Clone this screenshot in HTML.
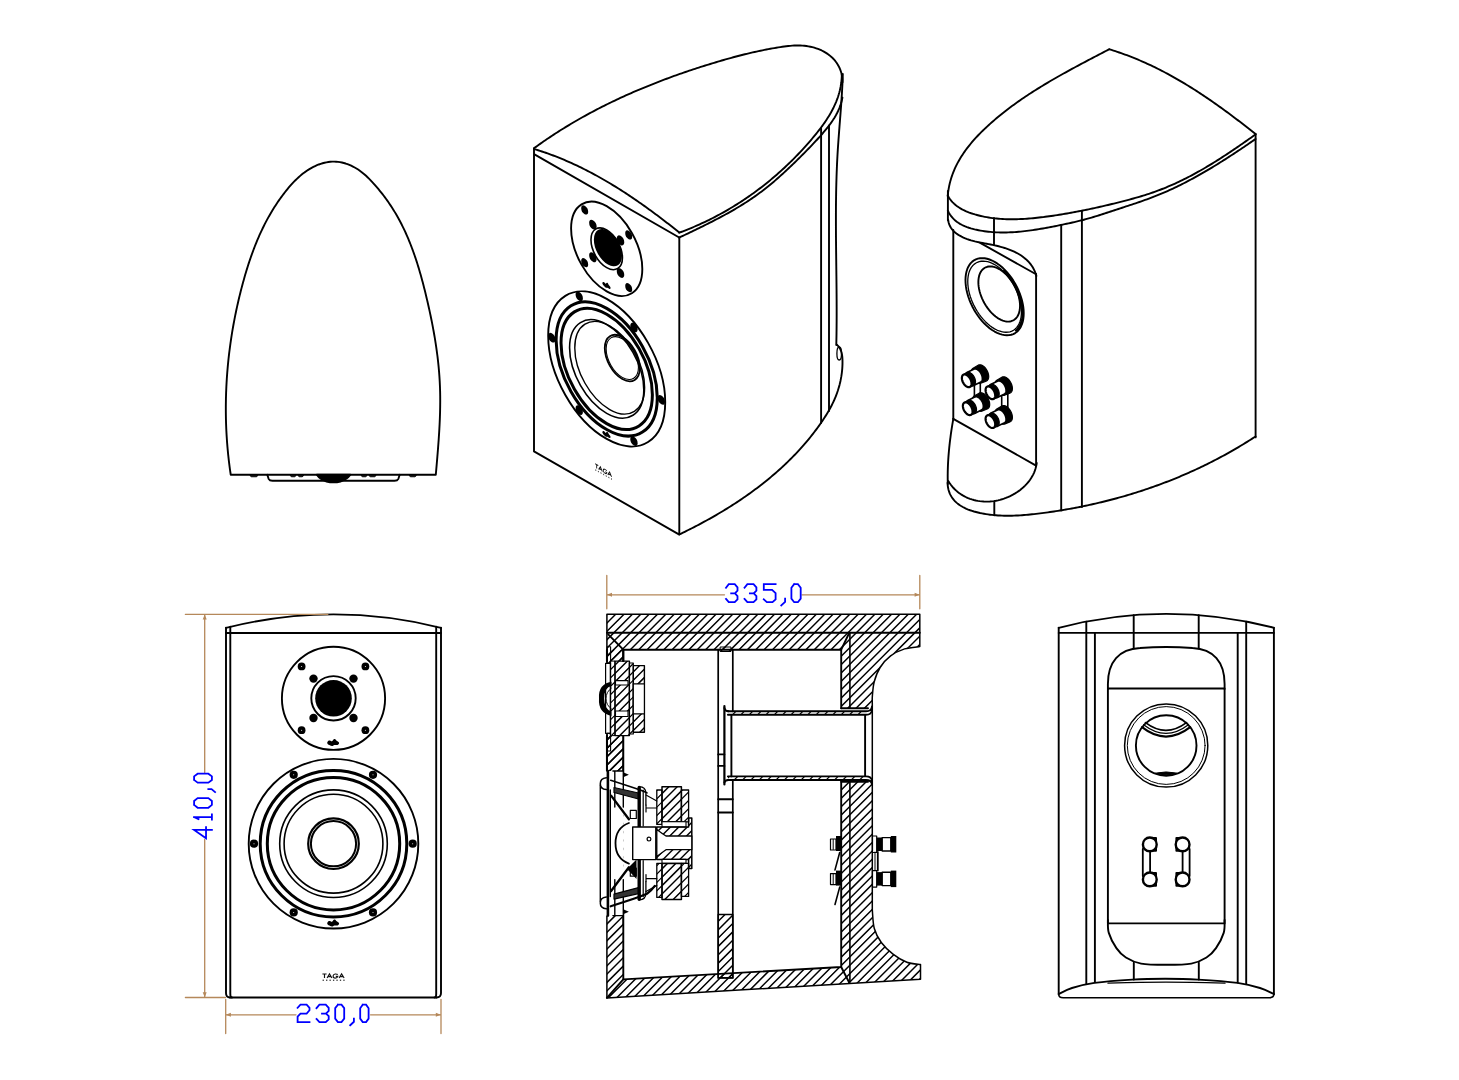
<!DOCTYPE html>
<html><head><meta charset="utf-8"><style>
html,body{margin:0;padding:0;background:#fff;}
svg{display:block;}
.ns *{vector-effect:non-scaling-stroke;}
</style></head><body>
<svg width="1459" height="1080" viewBox="0 0 1459 1080" fill="none" stroke="#000" stroke-width="1.9" stroke-linejoin="round" stroke-linecap="round">
<defs><pattern id="hat" width="10" height="5.976" patternUnits="userSpaceOnUse" patternTransform="rotate(-45.91)"><line x1="-1" y1="2.49" x2="11" y2="2.49" stroke="#000" stroke-width="1.45"/></pattern><pattern id="hat2" width="10" height="5.976" patternUnits="userSpaceOnUse" patternTransform="rotate(-45.91)"><line x1="-1" y1="2.49" x2="11" y2="2.49" stroke="#000" stroke-width="1.2"/></pattern></defs>
<rect width="1459" height="1080" fill="#fff" stroke="none"/>
<path d="M230.74,474.75 L230.45,472.76 L230.16,470.78 L229.88,468.79 L229.62,466.81 L229.36,464.82 L229.11,462.83 L228.87,460.84 L228.64,458.85 L228.42,456.86 L228.2,454.87 L228,452.88 L227.81,450.88 L227.62,448.89 L227.45,446.9 L227.28,444.9 L227.12,442.9 L226.97,440.91 L226.84,438.91 L226.71,436.91 L226.58,434.91 L226.47,432.91 L226.37,430.92 L226.28,428.92 L226.19,426.92 L226.11,424.92 L226.05,422.92 L225.99,420.91 L225.94,418.91 L225.9,416.91 L225.87,414.91 L225.85,412.91 L225.83,410.91 L225.83,408.91 L225.83,406.9 L225.84,404.9 L225.87,402.9 L225.9,400.9 L225.93,398.9 L225.98,396.9 L226.04,394.9 L226.1,392.89 L226.18,390.89 L226.26,388.89 L226.35,386.89 L226.45,384.9 L226.56,382.9 L226.68,380.9 L226.8,378.9 L226.93,376.9 L227.08,374.9 L227.23,372.91 L227.39,370.91 L227.56,368.92 L227.73,366.92 L227.92,364.93 L228.11,362.94 L228.31,360.94 L228.52,358.95 L228.74,356.96 L228.97,354.97 L229.2,352.98 L229.45,351 L229.7,349.01 L229.96,347.02 L230.23,345.04 L230.5,343.06 L230.79,341.07 L231.08,339.09 L231.38,337.11 L231.69,335.13 L232.01,333.16 L232.33,331.18 L232.67,329.21 L233.01,327.23 L233.36,325.26 L233.72,323.29 L234.09,321.32 L234.46,319.35 L234.84,317.39 L235.23,315.43 L235.63,313.46 L236.04,311.5 L236.45,309.54 L236.87,307.59 L237.3,305.63 L237.74,303.68 L238.19,301.72 L238.64,299.77 L239.1,297.83 L239.57,295.88 L240.05,293.94 L240.54,291.99 L241.03,290.05 L241.53,288.12 L242.04,286.18 L242.55,284.25 L243.08,282.31 L243.61,280.39 L244.15,278.46 L244.7,276.54 L245.26,274.61 L245.82,272.7 L246.4,270.78 L246.99,268.87 L247.58,266.96 L248.19,265.06 L248.8,263.16 L249.43,261.26 L250.07,259.37 L250.72,257.49 L251.38,255.6 L252.05,253.72 L252.74,251.85 L253.43,249.98 L254.14,248.12 L254.86,246.26 L255.6,244.41 L256.34,242.56 L257.11,240.72 L257.88,238.89 L258.67,237.06 L259.47,235.24 L260.29,233.42 L261.12,231.62 L261.97,229.81 L262.83,228.02 L263.71,226.23 L264.6,224.45 L265.51,222.68 L266.44,220.91 L267.38,219.15 L268.34,217.4 L269.32,215.66 L270.31,213.93 L271.33,212.21 L272.36,210.49 L273.4,208.78 L274.47,207.08 L275.55,205.39 L276.66,203.71 L277.78,202.04 L278.92,200.38 L280.09,198.73 L281.27,197.09 L282.47,195.46 L283.69,193.84 L284.93,192.23 L286.2,190.63 L287.48,189.05 L288.79,187.48 L290.12,185.94 L291.48,184.41 L292.86,182.91 L294.27,181.44 L295.7,180 L297.16,178.59 L298.64,177.22 L300.16,175.89 L301.7,174.59 L303.27,173.34 L304.87,172.14 L306.51,170.99 L308.17,169.88 L309.87,168.83 L311.6,167.84 L313.36,166.91 L315.16,166.03 L316.99,165.23 L318.84,164.49 L320.71,163.83 L322.61,163.25 L324.52,162.75 L326.44,162.34 L328.37,162.02 L330.31,161.79 L332.25,161.66 L334.19,161.63 L336.13,161.7 L338.06,161.88 L339.97,162.16 L341.88,162.52 L343.78,162.98 L345.65,163.53 L347.51,164.16 L349.35,164.88 L351.16,165.67 L352.95,166.54 L354.71,167.48 L356.44,168.49 L358.14,169.56 L359.8,170.7 L361.42,171.9 L363,173.15 L364.55,174.45 L366.06,175.8 L367.54,177.19 L368.99,178.61 L370.42,180.07 L371.82,181.55 L373.19,183.05 L374.55,184.57 L375.89,186.11 L377.21,187.65 L378.51,189.21 L379.8,190.77 L381.07,192.35 L382.32,193.94 L383.55,195.54 L384.77,197.15 L385.96,198.77 L387.14,200.4 L388.29,202.05 L389.43,203.7 L390.55,205.36 L391.65,207.04 L392.72,208.72 L393.78,210.41 L394.82,212.12 L395.84,213.83 L396.84,215.55 L397.82,217.29 L398.78,219.03 L399.73,220.78 L400.65,222.54 L401.56,224.3 L402.45,226.08 L403.33,227.86 L404.19,229.66 L405.03,231.46 L405.86,233.26 L406.67,235.08 L407.46,236.9 L408.24,238.73 L409,240.57 L409.75,242.41 L410.49,244.26 L411.21,246.11 L411.92,247.98 L412.62,249.84 L413.3,251.72 L413.97,253.6 L414.63,255.48 L415.27,257.37 L415.91,259.26 L416.53,261.16 L417.14,263.07 L417.74,264.98 L418.33,266.89 L418.91,268.81 L419.48,270.73 L420.04,272.65 L420.59,274.58 L421.14,276.51 L421.67,278.44 L422.2,280.38 L422.72,282.32 L423.23,284.26 L423.73,286.21 L424.22,288.15 L424.71,290.1 L425.2,292.05 L425.67,294 L426.14,295.96 L426.61,297.91 L427.07,299.87 L427.52,301.82 L427.97,303.78 L428.42,305.74 L428.86,307.7 L429.29,309.66 L429.72,311.62 L430.14,313.58 L430.55,315.54 L430.96,317.51 L431.37,319.47 L431.76,321.44 L432.15,323.4 L432.53,325.37 L432.91,327.34 L433.27,329.31 L433.63,331.28 L433.98,333.25 L434.33,335.22 L434.66,337.2 L434.99,339.17 L435.31,341.15 L435.62,343.12 L435.92,345.1 L436.22,347.08 L436.5,349.05 L436.78,351.03 L437.04,353.02 L437.3,355 L437.55,356.98 L437.78,358.96 L438.01,360.95 L438.22,362.93 L438.43,364.92 L438.63,366.91 L438.81,368.89 L438.98,370.88 L439.15,372.87 L439.3,374.87 L439.44,376.86 L439.57,378.85 L439.69,380.85 L439.79,382.84 L439.88,384.84 L439.97,386.83 L440.03,388.83 L440.09,390.83 L440.14,392.83 L440.17,394.83 L440.2,396.83 L440.21,398.84 L440.22,400.84 L440.21,402.84 L440.19,404.84 L440.17,406.85 L440.13,408.85 L440.09,410.86 L440.04,412.86 L439.98,414.87 L439.91,416.87 L439.84,418.88 L439.75,420.88 L439.66,422.89 L439.57,424.89 L439.46,426.89 L439.36,428.9 L439.24,430.9 L439.12,432.91 L438.99,434.91 L438.86,436.91 L438.73,438.91 L438.59,440.91 L438.44,442.91 L438.29,444.91 L438.14,446.91 L437.99,448.91 L437.83,450.91 L437.67,452.9 L437.5,454.9 L437.34,456.89 L437.17,458.88 L437,460.87 L436.83,462.86 L436.66,464.85 L436.49,466.84 L436.31,468.82 L436.14,470.8 L435.97,472.79 L435.79,474.77 Z"/>
<path d="M267.3,474.8 L268.6,478.8 Q269.6,480.8 272.5,480.8 L394.5,480.8 Q397.4,480.8 398.4,478.8 L399.7,474.8"/>
<path d="M316.8,474.8 Q320,479.5 326.5,481.5 Q333.5,483.2 340.5,481.5 Q347,479.5 350.4,474.8 Z" fill="#000"/>
<path d="M250,475.2 Q250.5,476.8 251.5,476.8 L256.3,476.8 Q257.3,476.8 257.8,475.2 Z" fill="#000" stroke-width="0.8"/>
<path d="M290.2,475.2 Q290.7,476.8 291.7,476.8 L294.5,476.8 Q295.5,476.8 296,475.2 Z" fill="#000" stroke-width="0.8"/>
<path d="M298,475.2 Q298.5,476.8 299.5,476.8 L302.1,476.8 Q303.1,476.8 303.6,475.2 Z" fill="#000" stroke-width="0.8"/>
<path d="M361.1,475.2 Q361.6,476.8 362.6,476.8 L365.5,476.8 Q366.5,476.8 367,475.2 Z" fill="#000" stroke-width="0.8"/>
<path d="M369,475.2 Q369.5,476.8 370.5,476.8 L374.5,476.8 Q375.5,476.8 376,475.2 Z" fill="#000" stroke-width="0.8"/>
<path d="M409.2,475.2 Q409.7,476.8 410.7,476.8 L414.8,476.8 Q415.8,476.8 416.3,475.2 Z" fill="#000" stroke-width="0.8"/>
<path d="M226,627.8 Q333.5,601 441,627.8"/>
<path d="M226,627.8 L226,993 Q226,997.5 230,997.5"/>
<path d="M441,627.8 L441,993 Q441,997.5 436.5,997.5"/>
<path d="M230.3,626.6 L230.3,994 Q230.3,997.5 232,997.5"/>
<path d="M436.2,626.6 L436.2,994 Q436.2,997.5 434.5,997.5"/>
<path d="M226,633 L441,633"/>
<path d="M230,997.5 L436.5,997.5" stroke-width="1.9"/>
<g transform="translate(333.5,698.3)"><circle r="51.6"/><circle r="22.2" stroke-width="1.9"/><circle r="18.3" fill="#000" stroke="none"/><circle cx="-20" cy="-19.7" r="4.2" fill="#000" stroke="none"/><circle cx="-31.9" cy="-31.9" r="3.9" fill="#000" stroke="none"/><circle cx="-31.9" cy="-31.9" r="0.5" fill="#fff" stroke="none"/><circle cx="-20" cy="19.7" r="4.2" fill="#000" stroke="none"/><circle cx="-31.9" cy="31.9" r="3.9" fill="#000" stroke="none"/><circle cx="-31.9" cy="31.9" r="0.5" fill="#fff" stroke="none"/><circle cx="20" cy="-19.7" r="4.2" fill="#000" stroke="none"/><circle cx="31.9" cy="-31.9" r="3.9" fill="#000" stroke="none"/><circle cx="31.9" cy="-31.9" r="0.5" fill="#fff" stroke="none"/><circle cx="20" cy="19.7" r="4.2" fill="#000" stroke="none"/><circle cx="31.9" cy="31.9" r="3.9" fill="#000" stroke="none"/><circle cx="31.9" cy="31.9" r="0.5" fill="#fff" stroke="none"/><path d="M-6.3,44.63 L-6.17,43.87 L-5.76,43.13 L-5.15,42.52 L-4.43,42.16 L-3.67,42.17 L-2.94,42.51 L-2.26,42.9 L-1.67,43.06 L-1.18,42.76 L-0.73,42.13 L-0.26,41.41 L0.32,40.87 L0.95,40.62 L1.53,40.75 L2.06,41.23 L2.59,41.87 L3.23,42.47 L3.98,42.95 L4.71,43.36 L5.28,43.83 L5.55,44.43 L5.52,45.09 L5.25,45.74 L4.77,46.28 L4.12,46.62 L3.35,46.71 L2.52,46.65 L1.68,46.58 L0.91,46.67 L0.24,46.97 L-0.38,47.34 L-1.01,47.6 L-1.69,47.61 L-2.44,47.42 L-3.26,47.13 L-4.12,46.79 L-4.93,46.38 L-5.62,45.89 L-6.1,45.31 L-6.3,44.63Z" fill="#000" stroke="none"/><g transform="translate(0,145.4)"><circle r="84.8"/><circle r="73.3" stroke-width="3.0"/><circle r="66.2" stroke-width="3.0"/><circle r="53.8" stroke-width="1.6"/><circle r="49.4" stroke-width="1.6"/><circle r="25.3" stroke-width="2.2"/><circle r="22.6" stroke-width="2.0"/><circle cx="-39.8" cy="-68.9" r="4.1" fill="#000" stroke="none"/><circle cx="-39.8" cy="-68.9" r="0.5" fill="#fff" stroke="none"/><circle cx="39.5" cy="-68.9" r="4.1" fill="#000" stroke="none"/><circle cx="39.5" cy="-68.9" r="0.5" fill="#fff" stroke="none"/><circle cx="-79.5" cy="0" r="4.1" fill="#000" stroke="none"/><circle cx="-79.5" cy="0" r="0.5" fill="#fff" stroke="none"/><circle cx="79.2" cy="0" r="4.1" fill="#000" stroke="none"/><circle cx="79.2" cy="0" r="0.5" fill="#fff" stroke="none"/><circle cx="-39.8" cy="68.7" r="4.1" fill="#000" stroke="none"/><circle cx="-39.8" cy="68.7" r="0.5" fill="#fff" stroke="none"/><circle cx="39.5" cy="68.7" r="4.1" fill="#000" stroke="none"/><circle cx="39.5" cy="68.7" r="0.5" fill="#fff" stroke="none"/><path d="M-6.3,79.73 L-6.17,78.97 L-5.76,78.23 L-5.15,77.62 L-4.43,77.26 L-3.67,77.27 L-2.94,77.61 L-2.26,78 L-1.67,78.16 L-1.18,77.86 L-0.73,77.23 L-0.26,76.51 L0.32,75.97 L0.95,75.72 L1.53,75.85 L2.06,76.33 L2.59,76.97 L3.23,77.57 L3.98,78.05 L4.71,78.46 L5.28,78.93 L5.55,79.53 L5.52,80.19 L5.25,80.84 L4.77,81.38 L4.12,81.72 L3.35,81.81 L2.52,81.75 L1.68,81.68 L0.91,81.77 L0.24,82.07 L-0.38,82.44 L-1.01,82.7 L-1.69,82.71 L-2.44,82.52 L-3.26,82.23 L-4.12,81.89 L-4.93,81.48 L-5.62,80.99 L-6.1,80.41 L-6.3,79.73Z" fill="#000" stroke="none"/></g></g>
<g transform="translate(333.2,976)"><path d="M-10.8,-2 L-6.6,-2 M-8.7,-2 L-8.7,2 M-6.1,2 L-3.7,-2.1 L-1.3,2 M-5.1,0.6 L-2.3,0.6 M4.6,-1.5 Q3.3,-2.2 1.9,-2 Q-0.1,-1.6 -0.1,0 Q-0.1,2.1 2.1,2.1 Q4.1,2.1 4.6,0.4 L2.6,0.4 M5.9,2 L8.4,-2.1 L10.9,2 M7,0.6 L9.8,0.6" stroke="#111" stroke-width="1.15" stroke-linecap="butt" stroke-linejoin="miter"/><rect x="-10.6" y="3.6" width="1.3" height="1.3" fill="#333" stroke="none"/><rect x="-7.15" y="3.6" width="1.3" height="1.3" fill="#333" stroke="none"/><rect x="-3.7" y="3.6" width="1.3" height="1.3" fill="#333" stroke="none"/><rect x="-0.25" y="3.6" width="1.3" height="1.3" fill="#333" stroke="none"/><rect x="3.2" y="3.6" width="1.3" height="1.3" fill="#333" stroke="none"/><rect x="6.65" y="3.6" width="1.3" height="1.3" fill="#333" stroke="none"/><rect x="10.1" y="3.6" width="1.3" height="1.3" fill="#333" stroke="none"/></g>
<g transform="matrix(0.69,0.392,0,0.826,606.7,248.8)" vector-effect="non-scaling-stroke" class="ns"><circle r="51.6"/><circle r="22.8" stroke-width="1.6"/><circle cx="1.8" cy="-2.2" r="20.4" fill="#000" stroke="none"/><circle cx="-20" cy="-19.7" r="5.46" fill="#000" stroke="none"/><circle cx="-31.9" cy="-31.9" r="5.07" fill="#000" stroke="none"/><circle cx="-20" cy="19.7" r="5.46" fill="#000" stroke="none"/><circle cx="-31.9" cy="31.9" r="5.07" fill="#000" stroke="none"/><circle cx="20" cy="-19.7" r="5.46" fill="#000" stroke="none"/><circle cx="31.9" cy="-31.9" r="5.07" fill="#000" stroke="none"/><circle cx="20" cy="19.7" r="5.46" fill="#000" stroke="none"/><circle cx="31.9" cy="31.9" r="5.07" fill="#000" stroke="none"/><path d="M-6.3,44.63 L-6.17,43.87 L-5.76,43.13 L-5.15,42.52 L-4.43,42.16 L-3.67,42.17 L-2.94,42.51 L-2.26,42.9 L-1.67,43.06 L-1.18,42.76 L-0.73,42.13 L-0.26,41.41 L0.32,40.87 L0.95,40.62 L1.53,40.75 L2.06,41.23 L2.59,41.87 L3.23,42.47 L3.98,42.95 L4.71,43.36 L5.28,43.83 L5.55,44.43 L5.52,45.09 L5.25,45.74 L4.77,46.28 L4.12,46.62 L3.35,46.71 L2.52,46.65 L1.68,46.58 L0.91,46.67 L0.24,46.97 L-0.38,47.34 L-1.01,47.6 L-1.69,47.61 L-2.44,47.42 L-3.26,47.13 L-4.12,46.79 L-4.93,46.38 L-5.62,45.89 L-6.1,45.31 L-6.3,44.63Z" fill="#000" stroke="none"/><g transform="translate(0,145.4)"><circle r="84.8"/><circle r="73.3" stroke-width="3.0"/><circle r="66.2" stroke-width="3.0"/><circle r="53.8" stroke-width="1.6"/><circle cx="-39.8" cy="-68.9" r="5.33" fill="#000" stroke="none"/><circle cx="39.5" cy="-68.9" r="5.33" fill="#000" stroke="none"/><circle cx="-79.5" cy="0" r="5.33" fill="#000" stroke="none"/><circle cx="79.2" cy="0" r="5.33" fill="#000" stroke="none"/><circle cx="-39.8" cy="68.7" r="5.33" fill="#000" stroke="none"/><circle cx="39.5" cy="68.7" r="5.33" fill="#000" stroke="none"/><path d="M-6.3,79.73 L-6.17,78.97 L-5.76,78.23 L-5.15,77.62 L-4.43,77.26 L-3.67,77.27 L-2.94,77.61 L-2.26,78 L-1.67,78.16 L-1.18,77.86 L-0.73,77.23 L-0.26,76.51 L0.32,75.97 L0.95,75.72 L1.53,75.85 L2.06,76.33 L2.59,76.97 L3.23,77.57 L3.98,78.05 L4.71,78.46 L5.28,78.93 L5.55,79.53 L5.52,80.19 L5.25,80.84 L4.77,81.38 L4.12,81.72 L3.35,81.81 L2.52,81.75 L1.68,81.68 L0.91,81.77 L0.24,82.07 L-0.38,82.44 L-1.01,82.7 L-1.69,82.71 L-2.44,82.52 L-3.26,82.23 L-4.12,81.89 L-4.93,81.48 L-5.62,80.99 L-6.1,80.41 L-6.3,79.73Z" fill="#000" stroke="none"/></g></g>
<g transform="translate(15.6,-10.7) matrix(0.69,0.392,0,0.826,606.7,248.8)" class="ns"><circle cy="145.2" r="25.4" stroke-width="1.8"/><circle cy="145.2" r="23.4" stroke-width="1.1"/></g>
<g transform="translate(3,-1) matrix(0.69,0.392,0,0.826,606.7,248.8)" class="ns"><circle cy="145.2" r="50.6" stroke-width="1.4"/></g>
<path d="M533.95,148.32 L535.57,147.13 L537.2,145.96 L538.83,144.79 L540.46,143.64 L542.1,142.48 L543.75,141.34 L545.4,140.2 L547.05,139.08 L548.71,137.95 L550.37,136.84 L552.04,135.73 L553.72,134.64 L555.39,133.54 L557.08,132.46 L558.76,131.38 L560.46,130.31 L562.15,129.25 L563.85,128.19 L565.56,127.14 L567.26,126.1 L568.98,125.07 L570.69,124.04 L572.42,123.02 L574.14,122 L575.87,121 L577.61,120 L579.34,119 L581.08,118.02 L582.83,117.04 L584.58,116.07 L586.33,115.1 L588.09,114.14 L589.85,113.19 L591.62,112.24 L593.38,111.3 L595.16,110.37 L596.93,109.44 L598.71,108.52 L600.49,107.61 L602.28,106.7 L604.07,105.8 L605.86,104.91 L607.65,104.02 L609.45,103.14 L611.26,102.26 L613.06,101.39 L614.87,100.53 L616.68,99.67 L618.5,98.82 L620.31,97.97 L622.14,97.14 L623.96,96.3 L625.79,95.48 L627.61,94.66 L629.45,93.84 L631.28,93.03 L633.12,92.23 L634.96,91.43 L636.8,90.64 L638.65,89.85 L640.5,89.07 L642.35,88.3 L644.2,87.53 L646.05,86.77 L647.91,86.01 L649.77,85.26 L651.63,84.51 L653.5,83.77 L655.36,83.04 L657.23,82.31 L659.1,81.59 L660.98,80.87 L662.85,80.15 L664.73,79.45 L666.61,78.74 L668.49,78.04 L670.37,77.35 L672.26,76.67 L674.14,75.98 L676.03,75.31 L677.92,74.63 L679.81,73.97 L681.7,73.31 L683.6,72.65 L685.49,72 L687.39,71.35 L689.29,70.71 L691.19,70.07 L693.09,69.44 L694.99,68.81 L696.89,68.19 L698.8,67.57 L700.71,66.96 L702.61,66.35 L704.52,65.75 L706.43,65.15 L708.34,64.55 L710.25,63.97 L712.16,63.38 L714.08,62.8 L715.99,62.22 L717.9,61.65 L719.82,61.09 L721.74,60.53 L723.66,59.97 L725.58,59.42 L727.5,58.88 L729.42,58.34 L731.35,57.81 L733.27,57.28 L735.2,56.77 L737.13,56.26 L739.06,55.75 L741,55.25 L742.93,54.76 L744.87,54.28 L746.81,53.81 L748.76,53.34 L750.7,52.88 L752.65,52.43 L754.6,51.99 L756.55,51.56 L758.51,51.14 L760.47,50.72 L762.43,50.32 L764.4,49.92 L766.37,49.53 L768.34,49.16 L770.31,48.79 L772.29,48.43 L774.27,48.08 L776.26,47.75 L778.25,47.42 L780.24,47.11 L782.24,46.81 L784.24,46.52 L786.24,46.26 L788.25,46.03 L790.25,45.83 L792.27,45.67 L794.28,45.55 L796.3,45.48 L798.32,45.47 L800.34,45.52 L802.36,45.63 L804.38,45.81 L806.39,46.05 L808.38,46.36 L810.36,46.74 L812.32,47.18 L814.26,47.7 L816.17,48.29 L818.04,48.95 L819.88,49.68 L821.68,50.48 L823.44,51.36 L825.14,52.32 L826.8,53.35 L828.4,54.46 L829.94,55.65 L831.41,56.91 L832.82,58.26 L834.15,59.69 L835.41,61.2 L836.58,62.79 L837.67,64.45 L838.66,66.18 L839.55,67.98 L840.33,69.85 L841,71.79 L841.56,73.79 L841.99,75.84 L842.29,77.96 L842.45,80.13 L842.48,82.35"/>
<path d="M679.18,232.7 L681.08,232 L682.97,231.29 L684.85,230.56 L686.73,229.83 L688.6,229.08 L690.46,228.31 L692.32,227.54 L694.18,226.75 L696.03,225.96 L697.87,225.15 L699.7,224.32 L701.53,223.49 L703.36,222.64 L705.18,221.78 L706.99,220.91 L708.79,220.03 L710.59,219.14 L712.39,218.23 L714.17,217.32 L715.96,216.39 L717.73,215.45 L719.5,214.5 L721.26,213.53 L723.01,212.56 L724.76,211.57 L726.5,210.58 L728.24,209.57 L729.97,208.55 L731.69,207.52 L733.41,206.48 L735.11,205.43 L736.82,204.37 L738.51,203.29 L740.2,202.21 L741.88,201.11 L743.55,200.01 L745.22,198.89 L746.88,197.76 L748.53,196.63 L750.18,195.48 L751.81,194.32 L753.45,193.15 L755.07,191.97 L756.69,190.78 L758.29,189.58 L759.9,188.37 L761.49,187.15 L763.08,185.92 L764.66,184.68 L766.23,183.43 L767.79,182.17 L769.35,180.9 L770.9,179.62 L772.44,178.33 L773.97,177.04 L775.49,175.73 L777.01,174.41 L778.52,173.08 L780.02,171.75 L781.52,170.4 L783,169.04 L784.48,167.68 L785.95,166.3 L787.41,164.92 L788.86,163.53 L790.31,162.13 L791.74,160.72 L793.17,159.3 L794.59,157.87 L796,156.43 L797.4,154.98 L798.8,153.53 L800.18,152.07 L801.56,150.59 L802.93,149.11 L804.29,147.62 L805.64,146.13 L806.98,144.62 L808.32,143.1 L809.64,141.58 L810.96,140.05 L812.26,138.51 L813.56,136.96 L814.85,135.41 L816.13,133.84 L817.39,132.27 L818.64,130.68 L819.87,129.09 L821.08,127.48 L822.28,125.86 L823.45,124.23 L824.6,122.59 L825.73,120.94 L826.84,119.27 L827.91,117.59 L828.96,115.9 L829.98,114.19 L830.97,112.47 L831.92,110.73 L832.84,108.97 L833.73,107.2 L834.57,105.42 L835.38,103.61 L836.15,101.79 L836.88,99.95 L837.56,98.09 L838.2,96.21 L838.79,94.31 L839.33,92.4 L839.83,90.46 L840.27,88.5 L840.67,86.52 L841,84.52 L841.29,82.5 L841.51,80.45 L841.68,78.38 L841.79,76.29 L841.84,74.17"/>
<path d="M679.25,237.55 L681.04,236.7 L682.84,235.84 L684.63,234.99 L686.43,234.13 L688.22,233.27 L690.02,232.41 L691.83,231.55 L693.63,230.68 L695.43,229.81 L697.23,228.94 L699.04,228.06 L700.84,227.18 L702.64,226.3 L704.44,225.41 L706.25,224.51 L708.04,223.62 L709.84,222.71 L711.64,221.8 L713.43,220.88 L715.22,219.96 L717.01,219.03 L718.79,218.09 L720.57,217.15 L722.34,216.2 L724.12,215.24 L725.88,214.27 L727.64,213.3 L729.4,212.32 L731.15,211.33 L732.9,210.32 L734.63,209.31 L736.37,208.29 L738.09,207.26 L739.81,206.22 L741.52,205.17 L743.22,204.11 L744.92,203.04 L746.61,201.96 L748.28,200.86 L749.95,199.76 L751.61,198.64 L753.26,197.51 L754.9,196.36 L756.53,195.21 L758.15,194.03 L759.76,192.85 L761.36,191.65 L762.95,190.45 L764.52,189.22 L766.09,187.99 L767.65,186.74 L769.2,185.49 L770.74,184.22 L772.27,182.94 L773.8,181.65 L775.31,180.35 L776.82,179.04 L778.32,177.73 L779.82,176.4 L781.31,175.07 L782.79,173.72 L784.26,172.37 L785.73,171.01 L787.2,169.65 L788.66,168.28 L790.11,166.9 L791.56,165.51 L793,164.12 L794.45,162.73 L795.88,161.32 L797.32,159.92 L798.75,158.51 L800.18,157.1 L801.6,155.68 L803.03,154.26 L804.44,152.83 L805.86,151.4 L807.27,149.96 L808.67,148.52 L810.07,147.07 L811.46,145.62 L812.84,144.16 L814.22,142.7 L815.59,141.22 L816.95,139.75 L818.31,138.26 L819.65,136.77 L820.99,135.27 L822.31,133.76 L823.62,132.24 L824.92,130.71 L826.19,129.17 L827.45,127.62 L828.67,126.05 L829.87,124.46 L831.04,122.85 L832.17,121.23 L833.27,119.58 L834.33,117.91 L835.34,116.21 L836.31,114.49 L837.23,112.74 L838.1,110.97 L838.91,109.16 L839.66,107.32 L840.35,105.45 L840.98,103.54 L841.54,101.59 L842.02,99.61 L842.43,97.58"/>
<path d="M534.25,149.07 L536.17,149.65 L538.09,150.25 L540.01,150.86 L541.91,151.48 L543.82,152.12 L545.71,152.77 L547.6,153.44 L549.49,154.11 L551.37,154.8 L553.25,155.51 L555.12,156.22 L556.99,156.95 L558.85,157.69 L560.7,158.44 L562.55,159.2 L564.4,159.98 L566.24,160.76 L568.08,161.56 L569.91,162.37 L571.73,163.19 L573.55,164.02 L575.37,164.86 L577.18,165.72 L578.99,166.58 L580.79,167.46 L582.59,168.34 L584.38,169.24 L586.16,170.14 L587.95,171.06 L589.72,171.98 L591.5,172.91 L593.26,173.86 L595.03,174.81 L596.79,175.77 L598.54,176.75 L600.29,177.73 L602.04,178.72 L603.78,179.71 L605.51,180.72 L607.24,181.73 L608.97,182.76 L610.69,183.79 L612.41,184.83 L614.12,185.87 L615.83,186.93 L617.54,187.99 L619.24,189.06 L620.93,190.14 L622.63,191.22 L624.31,192.31 L626,193.41 L627.68,194.51 L629.35,195.62 L631.02,196.74 L632.69,197.86 L634.35,198.99 L636.01,200.13 L637.66,201.27 L639.31,202.41 L640.96,203.57 L642.6,204.72 L644.24,205.89 L645.87,207.05 L647.5,208.23 L649.13,209.4 L650.75,210.59 L652.37,211.77 L653.98,212.96 L655.59,214.16 L657.2,215.36 L658.8,216.56 L660.4,217.77 L662,218.98 L663.59,220.19 L665.18,221.41 L666.76,222.63 L668.34,223.86 L669.92,225.08 L671.49,226.31 L673.06,227.55 L674.63,228.78 L676.19,230.02 L677.75,231.26 L679.3,232.5"/>
<path d="M534.9,154.6 L679.2,237.5"/>
<path d="M534,148.4 L534,451.4 L679.3,534.6 L679.3,237.5"/>
<path d="M679.42,534.38 L681.2,533.52 L682.98,532.66 L684.77,531.79 L686.55,530.91 L688.33,530.02 L690.11,529.13 L691.88,528.23 L693.66,527.32 L695.43,526.4 L697.2,525.48 L698.97,524.55 L700.74,523.61 L702.51,522.66 L704.27,521.71 L706.03,520.75 L707.79,519.78 L709.54,518.8 L711.29,517.82 L713.04,516.82 L714.78,515.82 L716.52,514.81 L718.26,513.8 L719.99,512.77 L721.72,511.74 L723.45,510.7 L725.17,509.65 L726.89,508.59 L728.6,507.53 L730.31,506.45 L732.01,505.37 L733.71,504.28 L735.4,503.18 L737.09,502.08 L738.77,500.96 L740.45,499.84 L742.12,498.71 L743.78,497.57 L745.44,496.42 L747.09,495.26 L748.74,494.1 L750.38,492.92 L752.02,491.74 L753.64,490.55 L755.26,489.35 L756.88,488.14 L758.49,486.92 L760.09,485.7 L761.68,484.46 L763.26,483.22 L764.84,481.97 L766.41,480.7 L767.97,479.43 L769.52,478.15 L771.07,476.87 L772.61,475.57 L774.14,474.26 L775.66,472.95 L777.17,471.62 L778.67,470.29 L780.16,468.94 L781.65,467.59 L783.12,466.23 L784.59,464.86 L786.04,463.48 L787.49,462.09 L788.93,460.69 L790.35,459.28 L791.77,457.86 L793.18,456.44 L794.57,455 L795.96,453.55 L797.33,452.1 L798.69,450.63 L800.05,449.16 L801.39,447.67 L802.72,446.18 L804.04,444.67 L805.34,443.16 L806.64,441.63 L807.92,440.1 L809.19,438.56 L810.45,437 L811.7,435.44 L812.93,433.86 L814.16,432.28 L815.37,430.69 L816.56,429.08 L817.75,427.47 L818.92,425.85 L820.07,424.21 L821.22,422.57 L822.35,420.91 L823.46,419.25 L824.56,417.57 L825.64,415.88 L826.69,414.17 L827.73,412.46 L828.74,410.73 L829.73,408.98 L830.69,407.22 L831.62,405.44 L832.52,403.64 L833.39,401.83 L834.23,400 L835.03,398.14 L835.8,396.27 L836.53,394.38 L837.22,392.47 L837.88,390.54 L838.49,388.59 L839.06,386.63 L839.59,384.65 L840.07,382.66 L840.52,380.67 L840.92,378.66 L841.28,376.65 L841.59,374.63 L841.86,372.61 L842.08,370.59 L842.26,368.57 L842.39,366.55 L842.47,364.54 L842.5,362.54 L842.49,360.54 L842.42,358.56 L842.27,356.61 L842.01,354.69 L841.63,352.82 L841.08,351.01 L840.36,349.28 L839.43,347.63 L838.26,346.09 L836.84,344.66"/>
<path d="M842.8,74.02 L842.74,76.03 L842.67,78.04 L842.59,80.04 L842.51,82.05 L842.41,84.05 L842.32,86.05 L842.21,88.06 L842.1,90.06 L841.99,92.06 L841.87,94.07 L841.74,96.07 L841.61,98.07 L841.48,100.08 L841.34,102.08 L841.2,104.08 L841.06,106.08 L840.91,108.08 L840.76,110.09 L840.61,112.09 L840.46,114.09 L840.31,116.09 L840.15,118.09 L839.99,120.1 L839.84,122.1 L839.68,124.1 L839.52,126.1 L839.37,128.1 L839.21,130.1 L839.06,132.11 L838.91,134.11 L838.76,136.11 L838.61,138.11 L838.46,140.12 L838.32,142.12 L838.18,144.12 L838.04,146.12 L837.91,148.13 L837.78,150.13 L837.66,152.13 L837.54,154.14 L837.43,156.14 L837.32,158.15 L837.22,160.15 L837.12,162.16 L837.02,164.16 L836.93,166.17 L836.85,168.17 L836.77,170.18 L836.69,172.18 L836.62,174.19 L836.55,176.2 L836.49,178.2 L836.43,180.21 L836.37,182.22 L836.32,184.22 L836.27,186.23 L836.22,188.24 L836.18,190.25 L836.14,192.25 L836.11,194.26 L836.08,196.27 L836.05,198.28 L836.02,200.29 L836,202.3 L835.98,204.31 L835.96,206.31 L835.95,208.32 L835.94,210.33 L835.93,212.34 L835.92,214.35 L835.92,216.36 L835.92,218.37 L835.92,220.38 L835.92,222.39 L835.92,224.4 L835.93,226.41 L835.94,228.42 L835.95,230.43 L835.96,232.44 L835.97,234.45 L835.98,236.46 L836,238.47 L836.01,240.48 L836.03,242.49 L836.05,244.51 L836.07,246.52 L836.09,248.53 L836.11,250.54 L836.13,252.55 L836.16,254.56 L836.18,256.57 L836.2,258.58 L836.23,260.59 L836.25,262.6 L836.27,264.61 L836.3,266.62 L836.32,268.64 L836.35,270.65 L836.37,272.66 L836.39,274.67 L836.42,276.68 L836.44,278.69 L836.46,280.7 L836.48,282.71 L836.5,284.72 L836.52,286.73 L836.54,288.74 L836.56,290.75 L836.57,292.76 L836.59,294.77 L836.6,296.78 L836.61,298.79 L836.63,300.8 L836.63,302.81 L836.64,304.82 L836.65,306.83 L836.65,308.84 L836.65,310.85 L836.65,312.86 L836.65,314.87 L836.65,316.88 L836.64,318.89 L836.63,320.9 L836.62,322.91 L836.6,324.92 L836.59,326.92 L836.57,328.93 L836.54,330.94 L836.52,332.95 L836.49,334.96 L836.46,336.96 L836.42,338.97 L836.38,340.98 L836.34,342.99 L836.3,344.99"/>
<ellipse cx="839.2" cy="353.5" rx="2.3" ry="6.5" stroke-width="1.3"/>
<path d="M821.1,128.7 L821.1,423"/><path d="M829,125.5 L829,411"/>
<g transform="matrix(0.76,0.432,0,0.95,603.3,470.3)"><path d="M-10.8,-2 L-6.6,-2 M-8.7,-2 L-8.7,2 M-6.1,2 L-3.7,-2.1 L-1.3,2 M-5.1,0.6 L-2.3,0.6 M4.6,-1.5 Q3.3,-2.2 1.9,-2 Q-0.1,-1.6 -0.1,0 Q-0.1,2.1 2.1,2.1 Q4.1,2.1 4.6,0.4 L2.6,0.4 M5.9,2 L8.4,-2.1 L10.9,2 M7,0.6 L9.8,0.6" stroke="#111" stroke-width="1.15" stroke-linecap="butt" stroke-linejoin="miter"/><rect x="-10.6" y="3.6" width="1.3" height="1.3" fill="#333" stroke="none"/><rect x="-7.15" y="3.6" width="1.3" height="1.3" fill="#333" stroke="none"/><rect x="-3.7" y="3.6" width="1.3" height="1.3" fill="#333" stroke="none"/><rect x="-0.25" y="3.6" width="1.3" height="1.3" fill="#333" stroke="none"/><rect x="3.2" y="3.6" width="1.3" height="1.3" fill="#333" stroke="none"/><rect x="6.65" y="3.6" width="1.3" height="1.3" fill="#333" stroke="none"/><rect x="10.1" y="3.6" width="1.3" height="1.3" fill="#333" stroke="none"/></g>
<path d="M947.74,196.09 L947.93,193.99 L948.18,191.91 L948.48,189.86 L948.82,187.83 L949.22,185.82 L949.66,183.84 L950.15,181.88 L950.68,179.94 L951.26,178.02 L951.88,176.12 L952.55,174.24 L953.25,172.39 L954,170.55 L954.79,168.74 L955.61,166.94 L956.48,165.16 L957.38,163.41 L958.31,161.67 L959.28,159.95 L960.28,158.25 L961.32,156.57 L962.39,154.91 L963.49,153.26 L964.61,151.63 L965.77,150.02 L966.95,148.43 L968.16,146.85 L969.4,145.29 L970.66,143.74 L971.94,142.21 L973.25,140.69 L974.58,139.19 L975.93,137.71 L977.3,136.24 L978.69,134.78 L980.09,133.34 L981.51,131.91 L982.95,130.5 L984.4,129.09 L985.87,127.71 L987.34,126.33 L988.83,124.96 L990.33,123.61 L991.85,122.27 L993.37,120.94 L994.9,119.63 L996.43,118.32 L997.98,117.02 L999.54,115.74 L1001.11,114.47 L1002.68,113.21 L1004.27,111.95 L1005.86,110.71 L1007.46,109.48 L1009.07,108.26 L1010.68,107.05 L1012.31,105.85 L1013.94,104.65 L1015.57,103.47 L1017.22,102.3 L1018.87,101.13 L1020.53,99.98 L1022.19,98.83 L1023.86,97.69 L1025.54,96.57 L1027.22,95.44 L1028.91,94.33 L1030.6,93.23 L1032.3,92.13 L1034.01,91.04 L1035.72,89.96 L1037.43,88.88 L1039.15,87.82 L1040.87,86.76 L1042.6,85.7 L1044.33,84.66 L1046.06,83.61 L1047.8,82.58 L1049.54,81.55 L1051.28,80.53 L1053.03,79.52 L1054.78,78.51 L1056.53,77.5 L1058.28,76.5 L1060.04,75.51 L1061.8,74.52 L1063.56,73.54 L1065.32,72.56 L1067.09,71.59 L1068.85,70.62 L1070.62,69.65 L1072.38,68.69 L1074.15,67.74 L1075.92,66.78 L1077.69,65.83 L1079.46,64.89 L1081.22,63.95 L1082.99,63.01 L1084.76,62.07 L1086.53,61.14 L1088.29,60.21 L1090.06,59.28 L1091.82,58.36 L1093.58,57.43 L1095.34,56.51 L1097.1,55.59 L1098.86,54.68 L1100.61,53.76 L1102.37,52.85 L1104.12,51.94 L1105.86,51.02 L1107.61,50.11 L1109.35,49.2"/>
<path d="M1109.55,49.36 L1111.5,49.95 L1113.44,50.57 L1115.38,51.19 L1117.31,51.83 L1119.23,52.48 L1121.15,53.15 L1123.06,53.82 L1124.97,54.52 L1126.87,55.22 L1128.76,55.94 L1130.65,56.67 L1132.53,57.41 L1134.41,58.16 L1136.28,58.93 L1138.14,59.71 L1140,60.5 L1141.86,61.3 L1143.71,62.11 L1145.55,62.94 L1147.39,63.77 L1149.22,64.62 L1151.04,65.48 L1152.87,66.35 L1154.68,67.22 L1156.49,68.11 L1158.3,69.01 L1160.1,69.93 L1161.89,70.85 L1163.68,71.78 L1165.47,72.72 L1167.25,73.67 L1169.02,74.63 L1170.79,75.6 L1172.56,76.57 L1174.32,77.56 L1176.07,78.56 L1177.82,79.56 L1179.57,80.58 L1181.31,81.6 L1183.05,82.63 L1184.78,83.67 L1186.51,84.71 L1188.23,85.77 L1189.95,86.83 L1191.67,87.9 L1193.38,88.98 L1195.08,90.06 L1196.78,91.15 L1198.48,92.25 L1200.17,93.36 L1201.86,94.47 L1203.55,95.59 L1205.23,96.72 L1206.9,97.85 L1208.58,98.99 L1210.25,100.13 L1211.91,101.28 L1213.57,102.44 L1215.23,103.6 L1216.88,104.77 L1218.53,105.94 L1220.18,107.12 L1221.82,108.3 L1223.46,109.49 L1225.1,110.68 L1226.73,111.88 L1228.36,113.08 L1229.98,114.28 L1231.6,115.49 L1233.22,116.71 L1234.84,117.93 L1236.45,119.15 L1238.06,120.37 L1239.66,121.6 L1241.27,122.83 L1242.87,124.07 L1244.46,125.3 L1246.06,126.54 L1247.65,127.79 L1249.23,129.03 L1250.82,130.28 L1252.4,131.53 L1253.98,132.79 L1255.56,134.04"/>
<path d="M947.8,195.8 L948.9,197.58 L950.08,199.26 L951.34,200.83 L952.68,202.31 L954.1,203.69 L955.58,204.98 L957.12,206.18 L958.73,207.31 L960.39,208.35 L962.09,209.33 L963.84,210.23 L965.63,211.07 L967.46,211.85 L969.31,212.58 L971.19,213.25 L973.09,213.87 L975.01,214.46 L976.93,215 L978.86,215.51 L980.81,215.98 L982.76,216.41 L984.71,216.81 L986.68,217.18 L988.65,217.51 L990.63,217.82 L992.61,218.09 L994.6,218.33 L996.59,218.54 L998.59,218.72 L1000.6,218.87 L1002.61,219 L1004.62,219.1 L1006.64,219.18 L1008.66,219.23 L1010.68,219.25 L1012.71,219.25 L1014.73,219.24 L1016.76,219.19 L1018.79,219.13 L1020.82,219.05 L1022.86,218.95 L1024.89,218.83 L1026.92,218.69 L1028.95,218.54 L1030.98,218.37 L1033.01,218.19 L1035.04,217.99 L1037.07,217.78 L1039.09,217.55 L1041.11,217.31 L1043.13,217.07 L1045.15,216.81 L1047.16,216.54 L1049.17,216.26 L1051.17,215.98 L1053.17,215.69 L1055.17,215.39 L1057.16,215.09 L1059.14,214.77 L1061.12,214.46 L1063.1,214.13 L1065.07,213.8 L1067.05,213.46 L1069.01,213.12 L1070.98,212.77 L1072.94,212.41 L1074.9,212.04 L1076.86,211.67 L1078.81,211.3 L1080.76,210.92 L1082.71,210.53 L1084.66,210.13 L1086.61,209.73 L1088.55,209.33 L1090.5,208.92 L1092.44,208.5 L1094.39,208.08 L1096.33,207.65 L1098.27,207.21 L1100.22,206.77 L1102.16,206.33 L1104.1,205.88 L1106.05,205.42 L1107.99,204.96 L1109.94,204.5 L1111.88,204.03 L1113.83,203.55 L1115.78,203.07 L1117.73,202.58 L1119.68,202.09 L1121.64,201.6 L1123.59,201.09 L1125.55,200.59 L1127.51,200.07 L1129.46,199.55 L1131.42,199.02 L1133.37,198.48 L1135.32,197.93 L1137.27,197.38 L1139.22,196.81 L1141.16,196.23 L1143.1,195.64 L1145.04,195.04 L1146.97,194.43 L1148.89,193.8 L1150.81,193.16 L1152.73,192.51 L1154.63,191.84 L1156.53,191.16 L1158.42,190.46 L1160.3,189.74 L1162.18,189.01 L1164.05,188.27 L1165.91,187.51 L1167.77,186.74 L1169.61,185.96 L1171.45,185.16 L1173.29,184.34 L1175.11,183.52 L1176.94,182.68 L1178.75,181.83 L1180.56,180.96 L1182.36,180.09 L1184.16,179.2 L1185.95,178.3 L1187.73,177.39 L1189.51,176.47 L1191.28,175.54 L1193.05,174.59 L1194.81,173.64 L1196.57,172.67 L1198.32,171.7 L1200.06,170.72 L1201.8,169.72 L1203.54,168.72 L1205.27,167.71 L1207,166.69 L1208.72,165.66 L1210.44,164.62 L1212.15,163.58 L1213.86,162.53 L1215.57,161.47 L1217.27,160.4 L1218.97,159.33 L1220.66,158.24 L1222.35,157.16 L1224.04,156.06 L1225.72,154.96 L1227.4,153.86 L1229.08,152.75 L1230.75,151.63 L1232.42,150.51 L1234.09,149.38 L1235.76,148.25 L1237.42,147.12 L1239.08,145.98 L1240.74,144.84 L1242.39,143.69 L1244.05,142.54 L1245.7,141.39 L1247.35,140.23 L1248.99,139.08 L1250.64,137.92 L1252.28,136.75 L1253.92,135.59 L1255.56,134.42"/>
<path d="M947.85,210.73 L948.85,212.67 L949.95,214.47 L951.14,216.15 L952.42,217.7 L953.79,219.14 L955.23,220.46 L956.75,221.68 L958.33,222.8 L959.97,223.82 L961.67,224.76 L963.42,225.62 L965.21,226.4 L967.04,227.11 L968.91,227.75 L970.8,228.34 L972.71,228.87 L974.64,229.36 L976.58,229.8 L978.53,230.21 L980.48,230.58 L982.44,230.92 L984.41,231.22 L986.39,231.48 L988.37,231.72 L990.36,231.92 L992.35,232.08 L994.35,232.22 L996.35,232.33 L998.36,232.4 L1000.37,232.45 L1002.39,232.48 L1004.41,232.47 L1006.43,232.44 L1008.45,232.38 L1010.48,232.3 L1012.5,232.2 L1014.53,232.08 L1016.56,231.93 L1018.59,231.76 L1020.62,231.58 L1022.66,231.37 L1024.69,231.15 L1026.72,230.9 L1028.74,230.65 L1030.77,230.37 L1032.8,230.09 L1034.82,229.79 L1036.84,229.47 L1038.86,229.14 L1040.87,228.81 L1042.89,228.46 L1044.89,228.1 L1046.9,227.74 L1048.89,227.36 L1050.89,226.98 L1052.87,226.6 L1054.86,226.2 L1056.83,225.81 L1058.8,225.41 L1060.76,225.01 L1062.72,224.6 L1064.67,224.19 L1066.61,223.78 L1068.54,223.37 L1070.47,222.95 L1072.4,222.52 L1074.32,222.08 L1076.24,221.63 L1078.16,221.17 L1080.08,220.7 L1081.99,220.21 L1083.9,219.71 L1085.82,219.19 L1087.73,218.65 L1089.64,218.11 L1091.55,217.55 L1093.47,216.98 L1095.38,216.4 L1097.29,215.82 L1099.2,215.22 L1101.11,214.62 L1103.02,214 L1104.94,213.39 L1106.85,212.77 L1108.76,212.14 L1110.68,211.51 L1112.59,210.88 L1114.51,210.25 L1116.42,209.62 L1118.34,208.99 L1120.26,208.36 L1122.18,207.73 L1124.09,207.1 L1126.01,206.47 L1127.93,205.84 L1129.85,205.2 L1131.77,204.57 L1133.68,203.93 L1135.6,203.28 L1137.51,202.63 L1139.42,201.98 L1141.32,201.32 L1143.22,200.65 L1145.12,199.97 L1147.02,199.29 L1148.91,198.59 L1150.8,197.89 L1152.68,197.17 L1154.55,196.45 L1156.42,195.71 L1158.29,194.96 L1160.15,194.19 L1162,193.42 L1163.85,192.63 L1165.69,191.83 L1167.53,191.02 L1169.36,190.2 L1171.18,189.36 L1173,188.52 L1174.82,187.66 L1176.63,186.8 L1178.43,185.92 L1180.23,185.04 L1182.03,184.14 L1183.82,183.24 L1185.6,182.32 L1187.38,181.4 L1189.16,180.46 L1190.93,179.52 L1192.7,178.57 L1194.46,177.61 L1196.22,176.64 L1197.97,175.66 L1199.72,174.68 L1201.47,173.69 L1203.21,172.69 L1204.95,171.68 L1206.68,170.66 L1208.41,169.64 L1210.14,168.61 L1211.86,167.58 L1213.58,166.54 L1215.3,165.49 L1217.01,164.44 L1218.72,163.38 L1220.43,162.31 L1222.13,161.24 L1223.83,160.17 L1225.52,159.09 L1227.22,158 L1228.91,156.91 L1230.59,155.82 L1232.28,154.72 L1233.96,153.61 L1235.64,152.51 L1237.31,151.4 L1238.99,150.28 L1240.66,149.17 L1242.33,148.05 L1244,146.93 L1245.66,145.8 L1247.32,144.67 L1248.98,143.54 L1250.64,142.41 L1252.3,141.28 L1253.95,140.14 L1255.61,139"/>
<path d="M947.9,191 L947.9,220.2"/>
<path d="M948.17,220.01 L948.55,222.16 L949.14,224.17 L949.95,226.03 L950.93,227.77 L952.09,229.37 L953.39,230.86 L954.83,232.23 L956.39,233.49 L958.04,234.65 L959.78,235.71 L961.58,236.68 L963.43,237.56 L965.31,238.36 L967.21,239.08 L969.12,239.74 L971.03,240.33 L972.95,240.87 L974.89,241.37 L976.83,241.82 L978.77,242.24 L980.73,242.64 L982.69,243.02 L984.67,243.39 L986.64,243.76 L988.63,244.13 L990.62,244.51 L992.62,244.91 L994.62,245.34 L996.63,245.79 L998.64,246.28 L1000.65,246.81 L1002.64,247.37 L1004.63,247.97 L1006.59,248.62 L1008.54,249.31 L1010.46,250.04 L1012.35,250.83 L1014.2,251.66 L1016.02,252.56 L1017.8,253.5 L1019.53,254.51 L1021.2,255.57 L1022.82,256.7 L1024.38,257.9 L1025.88,259.16 L1027.31,260.49 L1028.67,261.89 L1029.95,263.37 L1031.14,264.93 L1032.26,266.56 L1033.28,268.28 L1034.21,270.08 L1035.04,271.96 L1035.77,273.93 L1036.39,276"/>
<path d="M980.2,242.9 L1035.6,274"/>
<path d="M994,217.9 L994,245"/>
<path d="M953.3,230 L953.3,418.8"/>
<path d="M1036.1,274 L1036.1,465"/>
<path d="M1061.2,225.2 L1061.2,510.4"/>
<path d="M1081.9,211.3 L1081.9,507"/>
<path d="M1255.6,134 L1255.6,437.4"/>
<path d="M1255.6,436.43 L1253.91,437.53 L1252.22,438.63 L1250.52,439.71 L1248.82,440.79 L1247.11,441.86 L1245.4,442.92 L1243.69,443.97 L1241.97,445.02 L1240.25,446.06 L1238.52,447.09 L1236.79,448.11 L1235.05,449.13 L1233.31,450.13 L1231.57,451.13 L1229.82,452.12 L1228.07,453.11 L1226.31,454.08 L1224.55,455.05 L1222.79,456.01 L1221.02,456.96 L1219.25,457.91 L1217.47,458.85 L1215.69,459.78 L1213.91,460.7 L1212.12,461.61 L1210.33,462.52 L1208.54,463.42 L1206.74,464.31 L1204.94,465.19 L1203.14,466.07 L1201.33,466.94 L1199.52,467.8 L1197.7,468.65 L1195.88,469.5 L1194.06,470.33 L1192.24,471.16 L1190.41,471.99 L1188.58,472.8 L1186.74,473.61 L1184.9,474.41 L1183.06,475.2 L1181.22,475.99 L1179.37,476.76 L1177.52,477.53 L1175.66,478.29 L1173.8,479.05 L1171.94,479.8 L1170.08,480.54 L1168.21,481.27 L1166.34,481.99 L1164.47,482.71 L1162.6,483.42 L1160.72,484.12 L1158.84,484.82 L1156.95,485.5 L1155.07,486.18 L1153.18,486.86 L1151.29,487.52 L1149.39,488.18 L1147.5,488.83 L1145.6,489.47 L1143.69,490.11 L1141.79,490.73 L1139.88,491.35 L1137.97,491.97 L1136.06,492.57 L1134.14,493.17 L1132.23,493.76 L1130.31,494.34 L1128.39,494.92 L1126.46,495.49 L1124.54,496.05 L1122.61,496.61 L1120.68,497.15 L1118.74,497.69 L1116.81,498.22 L1114.87,498.75 L1112.93,499.27 L1110.99,499.78 L1109.05,500.28 L1107.1,500.78 L1105.16,501.27 L1103.21,501.75 L1101.26,502.22 L1099.3,502.69 L1097.35,503.15 L1095.39,503.6 L1093.44,504.05 L1091.48,504.48 L1089.51,504.92 L1087.55,505.34 L1085.59,505.76 L1083.62,506.16 L1081.65,506.57 L1079.68,506.96 L1077.71,507.35 L1075.74,507.73 L1073.76,508.1 L1071.79,508.47 L1069.81,508.83 L1067.83,509.18 L1065.85,509.53 L1063.87,509.87 L1061.89,510.2 L1059.91,510.52 L1057.92,510.84 L1055.94,511.15 L1053.95,511.45 L1051.96,511.75 L1049.97,512.03 L1047.98,512.32 L1045.99,512.59 L1044,512.86 L1042.01,513.12 L1040.01,513.37 L1038.02,513.62 L1036.02,513.86 L1034.02,514.09 L1032.03,514.3 L1030.03,514.51 L1028.03,514.71 L1026.03,514.89 L1024.03,515.06 L1022.03,515.21 L1020.03,515.35 L1018.03,515.47 L1016.03,515.57 L1014.02,515.65 L1012.02,515.71 L1010.02,515.74 L1008.02,515.76 L1006.01,515.75 L1004.01,515.72 L1002,515.66 L1000,515.57 L998,515.46 L995.99,515.31 L993.99,515.14 L991.99,514.93 L989.98,514.69 L987.98,514.42 L985.98,514.12 L983.97,513.78 L981.97,513.4 L979.97,512.99 L977.97,512.53 L975.98,512.03 L974,511.49 L972.05,510.89 L970.12,510.25 L968.23,509.54 L966.38,508.77 L964.57,507.93 L962.82,507.03 L961.13,506.05 L959.51,505 L957.96,503.86 L956.49,502.64 L955.11,501.33 L953.82,499.93 L952.63,498.43 L951.54,496.83 L950.57,495.14 L949.72,493.34 L949.01,491.43 L948.42,489.41 L947.99,487.29 L947.7,485.05 L947.58,482.69"/>
<path d="M947.8,484 L947.75,481.95 L947.72,479.9 L947.7,477.85 L947.7,475.81 L947.72,473.76 L947.75,471.71 L947.8,469.66 L947.86,467.61 L947.94,465.57 L948.03,463.52 L948.14,461.48 L948.27,459.43 L948.4,457.39 L948.55,455.35 L948.72,453.31 L948.9,451.27 L949.09,449.23 L949.29,447.19 L949.51,445.15 L949.73,443.12 L949.97,441.08 L950.22,439.05 L950.49,437.02 L950.76,434.98 L951.04,432.96 L951.34,430.93 L951.64,428.9 L951.96,426.88 L952.28,424.86 L952.62,422.84 L952.96,420.82 L953.31,418.8"/>
<path d="M953.3,418.8 L1035.6,465.3"/>
<path d="M1036.7,463.06 L1036.38,465.09 L1035.95,467.08 L1035.41,469.02 L1034.76,470.92 L1034.01,472.78 L1033.16,474.59 L1032.22,476.35 L1031.19,478.06 L1030.08,479.73 L1028.88,481.34 L1027.61,482.9 L1026.26,484.41 L1024.84,485.86 L1023.36,487.26 L1021.82,488.61 L1020.23,489.89 L1018.58,491.12 L1016.88,492.28 L1015.14,493.39 L1013.36,494.43 L1011.54,495.41 L1009.69,496.32 L1007.8,497.17 L1005.88,497.94 L1003.94,498.65 L1001.97,499.28 L999.99,499.84 L997.98,500.33 L995.97,500.74 L993.94,501.07 L991.91,501.33 L989.87,501.5 L987.83,501.6 L985.79,501.61 L983.76,501.54 L981.74,501.4 L979.73,501.17 L977.73,500.86 L975.76,500.47 L973.81,499.99 L971.88,499.44 L969.98,498.8 L968.11,498.07 L966.28,497.27 L964.49,496.38 L962.74,495.4 L961.03,494.34 L959.37,493.2 L957.77,491.97 L956.22,490.65 L954.72,489.25 L953.3,487.77 L951.93,486.19 L950.63,484.53 L949.41,482.78 L948.26,480.95"/>
<path d="M994.3,501.5 L994.3,515.2"/>
<path d="M1023.72,313.24 L1023.61,316.22 L1023.28,319.04 L1022.73,321.7 L1021.96,324.17 L1020.99,326.42 L1019.82,328.45 L1018.45,330.24 L1016.91,331.78 L1015.19,333.05 L1013.32,334.04 L1011.3,334.74 L1009.16,335.16 L1006.91,335.28 L1004.56,335.11 L1002.14,334.65 L999.66,333.9 L997.14,332.87 L994.6,331.56 L992.06,329.98 L989.54,328.16 L987.06,326.09 L984.64,323.8 L982.29,321.3 L980.04,318.62 L977.9,315.77 L975.88,312.77 L974.01,309.65 L972.29,306.43 L970.75,303.14 L969.38,299.8 L968.21,296.44 L967.24,293.08 L966.47,289.74 L965.92,286.46 L965.59,283.26 L965.48,280.16 L965.59,277.18 L965.92,274.36 L966.47,271.7 L967.24,269.23 L968.21,266.98 L969.38,264.95 L970.75,263.16 L972.29,261.62 L974.01,260.35 L975.88,259.36 L977.9,258.66 L980.04,258.24 L982.29,258.12 L984.64,258.29 L987.06,258.75 L989.54,259.5 L992.06,260.53 L994.6,261.84 L997.14,263.42 L999.66,265.24 L1002.14,267.31 L1004.56,269.6 L1006.91,272.1 L1009.16,274.78 L1011.3,277.63 L1013.32,280.63 L1015.19,283.75 L1016.91,286.97 L1018.45,290.26 L1019.82,293.6 L1020.99,296.96 L1021.96,300.32 L1022.73,303.66 L1023.28,306.94 L1023.61,310.14Z"/>
<path d="M1021.44,311.95 L1021.34,314.69 L1021.03,317.3 L1020.53,319.75 L1019.82,322.02 L1018.93,324.1 L1017.84,325.97 L1016.59,327.62 L1015.16,329.03 L1013.58,330.2 L1011.85,331.12 L1010,331.77 L1008.02,332.15 L1005.94,332.27 L1003.78,332.11 L1001.55,331.68 L999.26,330.99 L996.94,330.04 L994.6,328.83 L992.26,327.38 L989.94,325.7 L987.65,323.79 L985.42,321.68 L983.26,319.38 L981.18,316.9 L979.2,314.27 L977.35,311.51 L975.62,308.64 L974.04,305.67 L972.61,302.64 L971.36,299.56 L970.27,296.46 L969.38,293.36 L968.67,290.29 L968.17,287.26 L967.86,284.31 L967.76,281.45 L967.86,278.71 L968.17,276.1 L968.67,273.65 L969.38,271.38 L970.27,269.3 L971.36,267.43 L972.61,265.78 L974.04,264.37 L975.62,263.2 L977.35,262.28 L979.2,261.63 L981.18,261.25 L983.26,261.13 L985.42,261.29 L987.65,261.72 L989.94,262.41 L992.26,263.36 L994.6,264.57 L996.94,266.02 L999.26,267.7 L1001.55,269.61 L1003.78,271.72 L1005.94,274.02 L1008.02,276.5 L1010,279.13 L1011.85,281.89 L1013.58,284.76 L1015.16,287.73 L1016.59,290.76 L1017.84,293.84 L1018.93,296.94 L1019.82,300.04 L1020.53,303.11 L1021.03,306.14 L1021.34,309.09Z" stroke-width="1.3"/>
<path d="M1020.04,305.84 L1019.96,307.97 L1019.72,309.99 L1019.33,311.89 L1018.78,313.66 L1018.09,315.27 L1017.25,316.72 L1016.27,318.01 L1015.16,319.1 L1013.93,320.01 L1012.59,320.72 L1011.15,321.22 L1009.62,321.52 L1008.01,321.61 L1006.33,321.49 L1004.59,321.16 L1002.82,320.62 L1001.02,319.88 L999.2,318.95 L997.38,317.82 L995.58,316.51 L993.81,315.03 L992.07,313.39 L990.39,311.6 L988.78,309.68 L987.25,307.64 L985.81,305.5 L984.47,303.27 L983.24,300.97 L982.13,298.61 L981.15,296.22 L980.31,293.81 L979.62,291.41 L979.07,289.02 L978.68,286.67 L978.44,284.38 L978.36,282.16 L978.44,280.03 L978.68,278.01 L979.07,276.11 L979.62,274.34 L980.31,272.73 L981.15,271.28 L982.13,269.99 L983.24,268.9 L984.47,267.99 L985.81,267.28 L987.25,266.78 L988.78,266.48 L990.39,266.39 L992.07,266.51 L993.81,266.84 L995.58,267.38 L997.38,268.12 L999.2,269.05 L1001.02,270.18 L1002.82,271.49 L1004.59,272.97 L1006.33,274.61 L1008.01,276.4 L1009.62,278.32 L1011.15,280.36 L1012.59,282.5 L1013.93,284.73 L1015.16,287.03 L1016.27,289.39 L1017.25,291.78 L1018.09,294.19 L1018.78,296.59 L1019.33,298.98 L1019.72,301.33 L1019.96,303.62Z"/>
<path d="M1004.18,270.63 L1006.44,273.03 L1008.61,275.61 L1010.67,278.36 L1012.61,281.24 L1014.41,284.24 L1016.06,287.34 L1017.55,290.5 L1018.86,293.72 L1019.99,296.95 L1020.92,300.19 L1021.66,303.39 L1022.19,306.55 L1022.51,309.63 L1022.61,312.62 L1022.51,315.48 L1022.19,318.2 L1021.66,320.75 L1020.92,323.13 L1019.99,325.3 L1018.86,327.25 L1017.55,328.97 L1016.06,330.45" stroke-width="2.2"/>
<path d="M974.4,381 L974.4,401 M980.3,380 L980.3,399" stroke-width="1.6"/>
<path d="M1001.7,393 L1001.7,413 M1007.8,392 L1007.8,411" stroke-width="1.6"/>
<path d="M971.35,372.2 L971.43,371.13 L971.64,370.17 L972,369.35 L972.49,368.67 L973.09,368.17 L978.11,365.25 L978.85,364.91 L979.68,364.77 L980.58,364.84 L981.53,365.11 L982.5,365.57 L983.47,366.21 L984.42,367.02 L985.32,367.98 L986.15,369.06 L986.89,370.24 L987.52,371.48 L988.03,372.77 L988.41,374.06 L988.63,375.32 L988.71,376.53 L988.63,377.65 L988.41,378.65 L988.03,379.52 L987.52,380.22 L986.89,380.75 L986.15,381.09 L980.77,383.3 L979.98,383.43 L979.12,383.37 L978.21,383.12 L977.29,382.68 L976.36,382.06 L975.45,381.29 L974.59,380.37 L973.8,379.34 L973.09,378.21 L972.49,377.02 L972,375.8 L971.64,374.56 L971.43,373.36Z" fill="#000" stroke-width="1.2"/><path d="M966.88,372.55 L973.68,369.2 L974.28,368.92 L974.97,368.81 L975.71,368.86 L976.49,369.08 L977.29,369.46 L978.08,369.99 L978.86,370.66 L979.6,371.44 L980.29,372.33 L980.9,373.3 L981.42,374.33 L981.84,375.38 L982.14,376.44 L982.33,377.48 L982.39,378.47 L982.33,379.4 L982.14,380.22 L981.84,380.93 L981.42,381.51 L980.9,381.95 L974.1,385.3 L973.49,385.58 L972.81,385.69 L972.07,385.64 L971.29,385.42 L970.49,385.04 L969.69,384.51 L968.91,383.84 L968.17,383.06 L967.49,382.17 L966.88,381.2 L966.36,380.17 L965.94,379.12 L965.64,378.06 L965.45,377.02 L965.39,376.03 L965.45,375.11 L965.64,374.28 L965.94,373.57 L966.36,372.99Z" fill="#fff" stroke-width="1.7"/><path d="M963,377.35 L963.06,376.46 L963.24,375.65 L963.54,374.96 L963.94,374.4 L964.45,373.97 L966.93,372.64 L967.53,372.37 L968.21,372.26 L968.94,372.31 L969.7,372.52 L970.49,372.9 L971.28,373.42 L972.05,374.08 L972.78,374.85 L973.45,375.73 L974.05,376.69 L974.57,377.7 L974.98,378.74 L975.28,379.79 L975.47,380.81 L975.53,381.79 L975.47,382.7 L975.28,383.51 L974.98,384.22 L974.57,384.79 L974.05,385.22 L973.45,385.49 L970.88,386.65 L970.22,386.76 L969.5,386.7 L968.74,386.49 L967.96,386.12 L967.19,385.61 L966.43,384.96 L965.71,384.19 L965.04,383.33 L964.45,382.39 L963.94,381.39 L963.54,380.36 L963.24,379.33 L963.06,378.32Z" fill="#000" stroke-width="1.2"/><path d="M971.53,383.54 L971.47,384.41 L971.29,385.2 L971,385.87 L970.61,386.42 L970.12,386.83 L969.54,387.09 L968.89,387.2 L968.19,387.15 L967.46,386.94 L966.7,386.58 L965.94,386.08 L965.21,385.45 L964.51,384.71 L963.86,383.86 L963.28,382.95 L962.79,381.98 L962.4,380.98 L962.11,379.98 L961.93,378.99 L961.87,378.06 L961.93,377.19 L962.11,376.4 L962.4,375.73 L962.79,375.18 L963.28,374.77 L963.86,374.51 L964.51,374.4 L965.21,374.45 L965.94,374.66 L966.7,375.02 L967.46,375.52 L968.19,376.15 L968.89,376.89 L969.54,377.74 L970.12,378.65 L970.61,379.62 L971,380.62 L971.29,381.62 L971.47,382.61Z" fill="#fff" stroke-width="2.2"/>
<path d="M972.35,400.1 L972.43,399.03 L972.64,398.07 L973,397.25 L973.49,396.57 L974.09,396.07 L979.11,393.15 L979.85,392.81 L980.68,392.67 L981.58,392.74 L982.53,393.01 L983.5,393.47 L984.47,394.11 L985.42,394.92 L986.32,395.88 L987.15,396.96 L987.89,398.14 L988.52,399.38 L989.03,400.67 L989.41,401.96 L989.63,403.22 L989.71,404.43 L989.63,405.55 L989.41,406.55 L989.03,407.42 L988.52,408.12 L987.89,408.65 L987.15,408.99 L981.77,411.2 L980.98,411.33 L980.12,411.27 L979.21,411.02 L978.29,410.58 L977.36,409.96 L976.45,409.19 L975.59,408.27 L974.8,407.24 L974.09,406.11 L973.49,404.92 L973,403.7 L972.64,402.46 L972.43,401.26Z" fill="#000" stroke-width="1.2"/><path d="M967.88,400.45 L974.68,397.1 L975.28,396.82 L975.97,396.71 L976.71,396.76 L977.49,396.98 L978.29,397.36 L979.08,397.89 L979.86,398.56 L980.6,399.34 L981.29,400.23 L981.9,401.2 L982.42,402.23 L982.84,403.28 L983.14,404.34 L983.33,405.38 L983.39,406.37 L983.33,407.3 L983.14,408.12 L982.84,408.83 L982.42,409.41 L981.9,409.85 L975.1,413.2 L974.49,413.48 L973.81,413.59 L973.07,413.54 L972.29,413.32 L971.49,412.94 L970.69,412.41 L969.91,411.74 L969.17,410.96 L968.49,410.07 L967.88,409.1 L967.36,408.07 L966.94,407.02 L966.64,405.96 L966.45,404.92 L966.39,403.93 L966.45,403.01 L966.64,402.18 L966.94,401.47 L967.36,400.89Z" fill="#fff" stroke-width="1.7"/><path d="M964,405.25 L964.06,404.36 L964.24,403.55 L964.54,402.86 L964.94,402.3 L965.45,401.87 L967.93,400.54 L968.53,400.27 L969.21,400.16 L969.94,400.21 L970.7,400.42 L971.49,400.8 L972.28,401.32 L973.05,401.98 L973.78,402.75 L974.45,403.63 L975.05,404.59 L975.57,405.6 L975.98,406.64 L976.28,407.69 L976.47,408.71 L976.53,409.69 L976.47,410.6 L976.28,411.41 L975.98,412.12 L975.57,412.69 L975.05,413.12 L974.45,413.39 L971.88,414.55 L971.22,414.66 L970.5,414.6 L969.74,414.39 L968.96,414.02 L968.19,413.51 L967.43,412.86 L966.71,412.09 L966.04,411.23 L965.45,410.29 L964.94,409.29 L964.54,408.26 L964.24,407.23 L964.06,406.22Z" fill="#000" stroke-width="1.2"/><path d="M972.53,411.44 L972.47,412.31 L972.29,413.1 L972,413.77 L971.61,414.32 L971.12,414.73 L970.54,414.99 L969.89,415.1 L969.19,415.05 L968.46,414.84 L967.7,414.48 L966.94,413.98 L966.21,413.35 L965.51,412.61 L964.86,411.76 L964.28,410.85 L963.79,409.88 L963.4,408.88 L963.11,407.88 L962.93,406.89 L962.87,405.96 L962.93,405.09 L963.11,404.3 L963.4,403.63 L963.79,403.08 L964.28,402.67 L964.86,402.41 L965.51,402.3 L966.21,402.35 L966.94,402.56 L967.7,402.92 L968.46,403.42 L969.19,404.05 L969.89,404.79 L970.54,405.64 L971.12,406.55 L971.61,407.52 L972,408.52 L972.29,409.52 L972.47,410.51Z" fill="#fff" stroke-width="2.2"/>
<path d="M995.05,384.2 L995.13,383.13 L995.34,382.17 L995.7,381.35 L996.19,380.67 L996.79,380.17 L1001.81,377.25 L1002.55,376.91 L1003.38,376.77 L1004.28,376.84 L1005.23,377.11 L1006.2,377.57 L1007.17,378.21 L1008.12,379.02 L1009.02,379.98 L1009.85,381.06 L1010.59,382.24 L1011.22,383.48 L1011.73,384.77 L1012.11,386.06 L1012.33,387.32 L1012.41,388.53 L1012.33,389.65 L1012.11,390.65 L1011.73,391.52 L1011.22,392.22 L1010.59,392.75 L1009.85,393.09 L1004.47,395.3 L1003.68,395.43 L1002.82,395.37 L1001.91,395.12 L1000.99,394.68 L1000.06,394.06 L999.15,393.29 L998.29,392.37 L997.5,391.34 L996.79,390.21 L996.19,389.02 L995.7,387.8 L995.34,386.56 L995.13,385.36Z" fill="#000" stroke-width="1.2"/><path d="M990.58,384.55 L997.38,381.2 L997.98,380.92 L998.67,380.81 L999.41,380.86 L1000.19,381.08 L1000.99,381.46 L1001.78,381.99 L1002.56,382.66 L1003.3,383.44 L1003.99,384.33 L1004.6,385.3 L1005.12,386.33 L1005.54,387.38 L1005.84,388.44 L1006.03,389.48 L1006.09,390.47 L1006.03,391.4 L1005.84,392.22 L1005.54,392.93 L1005.12,393.51 L1004.6,393.95 L997.8,397.3 L997.19,397.58 L996.51,397.69 L995.77,397.64 L994.99,397.42 L994.19,397.04 L993.39,396.51 L992.61,395.84 L991.87,395.06 L991.19,394.17 L990.58,393.2 L990.06,392.17 L989.64,391.12 L989.34,390.06 L989.15,389.02 L989.09,388.03 L989.15,387.11 L989.34,386.28 L989.64,385.57 L990.06,384.99Z" fill="#fff" stroke-width="1.7"/><path d="M986.7,389.35 L986.76,388.46 L986.94,387.65 L987.24,386.96 L987.64,386.4 L988.15,385.97 L990.63,384.64 L991.23,384.37 L991.91,384.26 L992.64,384.31 L993.4,384.52 L994.19,384.9 L994.98,385.42 L995.75,386.08 L996.48,386.85 L997.15,387.73 L997.75,388.69 L998.27,389.7 L998.68,390.74 L998.98,391.79 L999.17,392.81 L999.23,393.79 L999.17,394.7 L998.98,395.51 L998.68,396.22 L998.27,396.79 L997.75,397.22 L997.15,397.49 L994.58,398.65 L993.92,398.76 L993.2,398.7 L992.44,398.49 L991.66,398.12 L990.89,397.61 L990.13,396.96 L989.41,396.19 L988.74,395.33 L988.15,394.39 L987.64,393.39 L987.24,392.36 L986.94,391.33 L986.76,390.32Z" fill="#000" stroke-width="1.2"/><path d="M995.23,395.54 L995.17,396.41 L994.99,397.2 L994.7,397.87 L994.31,398.42 L993.82,398.83 L993.24,399.09 L992.59,399.2 L991.89,399.15 L991.16,398.94 L990.4,398.58 L989.64,398.08 L988.91,397.45 L988.21,396.71 L987.56,395.86 L986.98,394.95 L986.49,393.98 L986.1,392.98 L985.81,391.98 L985.63,390.99 L985.57,390.06 L985.63,389.19 L985.81,388.4 L986.1,387.73 L986.49,387.18 L986.98,386.77 L987.56,386.51 L988.21,386.4 L988.91,386.45 L989.64,386.66 L990.4,387.02 L991.16,387.52 L991.89,388.15 L992.59,388.89 L993.24,389.74 L993.82,390.65 L994.31,391.62 L994.7,392.62 L994.99,393.62 L995.17,394.61Z" fill="#fff" stroke-width="2.2"/>
<path d="M995.05,413 L995.13,411.93 L995.34,410.97 L995.7,410.15 L996.19,409.47 L996.79,408.97 L1001.81,406.05 L1002.55,405.71 L1003.38,405.57 L1004.28,405.64 L1005.23,405.91 L1006.2,406.37 L1007.17,407.01 L1008.12,407.82 L1009.02,408.78 L1009.85,409.86 L1010.59,411.04 L1011.22,412.28 L1011.73,413.57 L1012.11,414.86 L1012.33,416.12 L1012.41,417.33 L1012.33,418.45 L1012.11,419.45 L1011.73,420.32 L1011.22,421.02 L1010.59,421.55 L1009.85,421.89 L1004.47,424.1 L1003.68,424.23 L1002.82,424.17 L1001.91,423.92 L1000.99,423.48 L1000.06,422.86 L999.15,422.09 L998.29,421.17 L997.5,420.14 L996.79,419.01 L996.19,417.82 L995.7,416.6 L995.34,415.36 L995.13,414.16Z" fill="#000" stroke-width="1.2"/><path d="M990.58,413.35 L997.38,410 L997.98,409.72 L998.67,409.61 L999.41,409.66 L1000.19,409.88 L1000.99,410.26 L1001.78,410.79 L1002.56,411.46 L1003.3,412.24 L1003.99,413.13 L1004.6,414.1 L1005.12,415.13 L1005.54,416.18 L1005.84,417.24 L1006.03,418.28 L1006.09,419.27 L1006.03,420.2 L1005.84,421.02 L1005.54,421.73 L1005.12,422.31 L1004.6,422.75 L997.8,426.1 L997.19,426.38 L996.51,426.49 L995.77,426.44 L994.99,426.22 L994.19,425.84 L993.39,425.31 L992.61,424.64 L991.87,423.86 L991.19,422.97 L990.58,422 L990.06,420.97 L989.64,419.92 L989.34,418.86 L989.15,417.82 L989.09,416.83 L989.15,415.91 L989.34,415.08 L989.64,414.37 L990.06,413.79Z" fill="#fff" stroke-width="1.7"/><path d="M986.7,418.15 L986.76,417.26 L986.94,416.45 L987.24,415.76 L987.64,415.2 L988.15,414.77 L990.63,413.44 L991.23,413.17 L991.91,413.06 L992.64,413.11 L993.4,413.32 L994.19,413.7 L994.98,414.22 L995.75,414.88 L996.48,415.65 L997.15,416.53 L997.75,417.49 L998.27,418.5 L998.68,419.54 L998.98,420.59 L999.17,421.61 L999.23,422.59 L999.17,423.5 L998.98,424.31 L998.68,425.02 L998.27,425.59 L997.75,426.02 L997.15,426.29 L994.58,427.45 L993.92,427.56 L993.2,427.5 L992.44,427.29 L991.66,426.92 L990.89,426.41 L990.13,425.76 L989.41,424.99 L988.74,424.13 L988.15,423.19 L987.64,422.19 L987.24,421.16 L986.94,420.13 L986.76,419.12Z" fill="#000" stroke-width="1.2"/><path d="M995.23,424.34 L995.17,425.21 L994.99,426 L994.7,426.67 L994.31,427.22 L993.82,427.63 L993.24,427.89 L992.59,428 L991.89,427.95 L991.16,427.74 L990.4,427.38 L989.64,426.88 L988.91,426.25 L988.21,425.51 L987.56,424.66 L986.98,423.75 L986.49,422.78 L986.1,421.78 L985.81,420.78 L985.63,419.79 L985.57,418.86 L985.63,417.99 L985.81,417.2 L986.1,416.53 L986.49,415.98 L986.98,415.57 L987.56,415.31 L988.21,415.2 L988.91,415.25 L989.64,415.46 L990.4,415.82 L991.16,416.32 L991.89,416.95 L992.59,417.69 L993.24,418.54 L993.82,419.45 L994.31,420.42 L994.7,421.42 L994.99,422.42 L995.17,423.41Z" fill="#fff" stroke-width="2.2"/>
<path d="M1058.7,627.8 Q1166.2,600 1273.9,627.8"/>
<path d="M1058.7,632.9 L1273.9,632.9"/>
<path d="M1058.7,627.8 L1058.7,994 M1273.9,627.8 L1273.9,994"/>
<path d="M1086.3,621.6 L1086.3,983.7 M1094.9,632.9 L1094.9,982.3 M1237.7,632.9 L1237.7,982.5 M1246.2,621.6 L1246.2,983.7"/>
<path d="M1133.7,615.2 L1133.7,648.3 M1198.7,615.2 L1198.7,648.3"/>
<path d="M1107.9,689 L1107.9,684 C1107.9,662 1119,649 1140,648 Q1166.2,646 1192.5,648 C1213.5,649 1224.6,662 1224.6,684 L1224.6,689"/>
<path d="M1107.9,688.5 L1224.6,688.5 M1107.9,688.5 L1107.9,923.4 M1224.6,688.5 L1224.6,923.4 M1107.9,923.4 L1224.6,923.4"/>
<path d="M1107.9,920 C1108.05,922.15 1107.38,928.22 1108.8,932.9 C1110.22,937.58 1113.55,944 1116.4,948.1 C1119.25,952.2 1121.78,954.92 1125.9,957.5 C1130.02,960.08 1134.38,962.38 1141.1,963.6 C1147.82,964.82 1157.83,964.8 1166.2,964.8 C1174.57,964.8 1184.58,964.82 1191.3,963.6 C1198.02,962.38 1202.38,960.08 1206.5,957.5 C1210.62,954.92 1213.13,952.2 1216,948.1 C1218.87,944 1222.27,937.58 1223.7,932.9 C1225.13,928.22 1224.45,922.15 1224.6,920"/>
<path d="M1133.8,962.8 L1133.8,979.6 M1198.8,962.8 L1198.8,979.6"/>
<path d="M1058.7,994 C1060.92,993 1066.05,989.85 1072,988 C1077.95,986.15 1084.35,984.3 1094.4,982.9 C1104.45,981.5 1120.5,980.28 1132.3,979.6 C1144.1,978.92 1154.25,978.8 1165.2,978.8 C1176.15,978.8 1185.95,978.92 1198,979.6 C1210.05,980.28 1227.17,981.5 1237.5,982.9 C1247.83,984.3 1253.93,986.15 1260,988 C1266.07,989.85 1271.58,993 1273.9,994"/>
<path d="M1058.7,994 Q1058.5,997.7 1063.2,997.7 L1269.4,997.7 Q1273.9,997.7 1273.9,994" stroke-width="1.6"/>
<path d="M1108,983.2 C1113.33,983.07 1130.33,982.57 1140,982.4 C1149.67,982.23 1157.33,982.2 1166,982.2 C1174.67,982.2 1182.17,982.23 1192,982.4 C1201.83,982.57 1219.5,983.07 1225,983.2" stroke-width="1.3"/>
<circle cx="1166.2" cy="745.5" r="41.6" stroke-width="1.5"/>
<circle cx="1166.2" cy="745.5" r="38.9" stroke-width="1"/>
<circle cx="1166.2" cy="745.5" r="30.3"/>
<path d="M1145.5,722.6 Q1165.9,738 1186.5,722.6" stroke-width="1.7"/>
<path d="M1143.6,724.8 Q1165.9,742 1188.4,724.8" stroke-width="1.3"/>
<path d="M1142,727.2 Q1165.9,746 1190.2,727.2" stroke-width="2.1"/>
<path d="M1155,773.2 Q1166.2,770.6 1177.4,773.2 Q1166.2,776.4 1155,773.2Z" fill="#000" stroke-width="1"/>
<path d="M1142.8,849 L1142.8,876 M1150.1,851 L1150.1,872" stroke-width="1.8"/>
<path d="M1182.6,851 L1182.6,872 M1189.6,849 L1189.6,876" stroke-width="1.8"/>
<rect x="1148.8" y="837.1" width="8.2" height="14.6" rx="1" fill="#000" stroke="none"/>
<circle cx="1149.8" cy="844.4" r="6.9" stroke-width="2.4" fill="#fff"/>
<rect x="1148.8" y="872.1" width="8.2" height="14.6" rx="1" fill="#000" stroke="none"/>
<circle cx="1149.8" cy="879.4" r="6.9" stroke-width="2.4" fill="#fff"/>
<rect x="1175.4" y="837.1" width="8.2" height="14.6" rx="1" fill="#000" stroke="none"/>
<circle cx="1182.6" cy="844.4" r="6.9" stroke-width="2.4" fill="#fff"/>
<rect x="1175.4" y="872.1" width="8.2" height="14.6" rx="1" fill="#000" stroke="none"/>
<circle cx="1182.6" cy="879.4" r="6.9" stroke-width="2.4" fill="#fff"/>
<g><clipPath id="hc1"><path d="M606.9,614.3 L919.8,614.3 L919.8,646.6  C917.27,646.98 909.47,647.35 904.6,648.9 C899.73,650.45 894.68,652.8 890.6,655.9 C886.52,659 882.82,663.23 880.1,667.5 C877.38,671.77 875.58,676.83 874.3,681.5 C873.02,686.17 872.73,691.62 872.4,695.5 C872.07,699.38 872.32,703.25 872.3,704.8 L872.3,909.8  C872.63,912.92 872.8,923.05 874.3,928.5 C875.8,933.95 878.18,938.23 881.3,942.5 C884.42,946.77 888.73,950.8 893,954.1 C897.27,957.4 902.32,960.55 906.9,962.3 C911.48,964.05 918.23,964.22 920.5,964.6 L920.5,979.3 L606.9,997.9 Z M623.3,649.7 L841.2,649.7 L841.2,708.3 L872.3,708.3 L872.3,781.7 L841.2,781.7 L841.2,967 L623.3,979.4 Z" clip-rule="evenodd"/></clipPath><path clip-path="url(#hc1)" d="M591.54,613.3 L205.94,998.9 M599.9,613.3 L214.3,998.9 M608.26,613.3 L222.66,998.9 M616.62,613.3 L231.02,998.9 M624.98,613.3 L239.38,998.9 M633.34,613.3 L247.74,998.9 M641.7,613.3 L256.1,998.9 M650.06,613.3 L264.46,998.9 M658.42,613.3 L272.82,998.9 M666.78,613.3 L281.18,998.9 M675.14,613.3 L289.54,998.9 M683.5,613.3 L297.9,998.9 M691.86,613.3 L306.26,998.9 M700.22,613.3 L314.62,998.9 M708.58,613.3 L322.98,998.9 M716.94,613.3 L331.34,998.9 M725.3,613.3 L339.7,998.9 M733.66,613.3 L348.06,998.9 M742.02,613.3 L356.42,998.9 M750.38,613.3 L364.78,998.9 M758.74,613.3 L373.14,998.9 M767.1,613.3 L381.5,998.9 M775.46,613.3 L389.86,998.9 M783.82,613.3 L398.22,998.9 M792.18,613.3 L406.58,998.9 M800.54,613.3 L414.94,998.9 M808.9,613.3 L423.3,998.9 M817.26,613.3 L431.66,998.9 M825.62,613.3 L440.02,998.9 M833.98,613.3 L448.38,998.9 M842.34,613.3 L456.74,998.9 M850.7,613.3 L465.1,998.9 M859.06,613.3 L473.46,998.9 M867.42,613.3 L481.82,998.9 M875.78,613.3 L490.18,998.9 M884.14,613.3 L498.54,998.9 M892.5,613.3 L506.9,998.9 M900.86,613.3 L515.26,998.9 M909.22,613.3 L523.62,998.9 M917.58,613.3 L531.98,998.9 M925.94,613.3 L540.34,998.9 M934.3,613.3 L548.7,998.9 M942.66,613.3 L557.06,998.9 M951.02,613.3 L565.42,998.9 M959.38,613.3 L573.78,998.9 M967.74,613.3 L582.14,998.9 M976.1,613.3 L590.5,998.9 M984.46,613.3 L598.86,998.9 M992.82,613.3 L607.22,998.9 M1001.18,613.3 L615.58,998.9 M1009.54,613.3 L623.94,998.9 M1017.9,613.3 L632.3,998.9 M1026.26,613.3 L640.66,998.9 M1034.62,613.3 L649.02,998.9 M1042.98,613.3 L657.38,998.9 M1051.34,613.3 L665.74,998.9 M1059.7,613.3 L674.1,998.9 M1068.06,613.3 L682.46,998.9 M1076.42,613.3 L690.82,998.9 M1084.78,613.3 L699.18,998.9 M1093.14,613.3 L707.54,998.9 M1101.5,613.3 L715.9,998.9 M1109.86,613.3 L724.26,998.9 M1118.22,613.3 L732.62,998.9 M1126.58,613.3 L740.98,998.9 M1134.94,613.3 L749.34,998.9 M1143.3,613.3 L757.7,998.9 M1151.66,613.3 L766.06,998.9 M1160.02,613.3 L774.42,998.9 M1168.38,613.3 L782.78,998.9 M1176.74,613.3 L791.14,998.9 M1185.1,613.3 L799.5,998.9 M1193.46,613.3 L807.86,998.9 M1201.82,613.3 L816.22,998.9 M1210.18,613.3 L824.58,998.9 M1218.54,613.3 L832.94,998.9 M1226.9,613.3 L841.3,998.9 M1235.26,613.3 L849.66,998.9 M1243.62,613.3 L858.02,998.9 M1251.98,613.3 L866.38,998.9 M1260.34,613.3 L874.74,998.9 M1268.7,613.3 L883.1,998.9 M1277.06,613.3 L891.46,998.9 M1285.42,613.3 L899.82,998.9 M1293.78,613.3 L908.18,998.9 M1302.14,613.3 L916.54,998.9 M1310.5,613.3 L924.9,998.9 M1318.86,613.3 L933.26,998.9 " stroke-width="1.45" stroke-linecap="butt"/><rect x="604" y="661" width="20" height="75" fill="#fff" stroke="none"/><rect x="599" y="776" width="8" height="134" fill="#fff" stroke="none"/><path d="M606.9,614.3 L919.8,614.3 L919.8,646.6  C917.27,646.98 909.47,647.35 904.6,648.9 C899.73,650.45 894.68,652.8 890.6,655.9 C886.52,659 882.82,663.23 880.1,667.5 C877.38,671.77 875.58,676.83 874.3,681.5 C873.02,686.17 872.73,691.62 872.4,695.5 C872.07,699.38 872.32,703.25 872.3,704.8 L872.3,909.8  C872.63,912.92 872.8,923.05 874.3,928.5 C875.8,933.95 878.18,938.23 881.3,942.5 C884.42,946.77 888.73,950.8 893,954.1 C897.27,957.4 902.32,960.55 906.9,962.3 C911.48,964.05 918.23,964.22 920.5,964.6 L920.5,979.3 L606.9,997.9 Z" stroke-width="1.5"/><path d="M606.9,632.7 L919.8,632.7"/><path d="M623.3,661 L623.3,649.7 L841.2,649.7 L841.2,708.3 M841.2,781.7 L841.2,967 L623.3,979.4 L623.3,910"/><path d="M608.2,634.3 L622.8,649.2 M606.9,997.9 L623.3,979.4 M841.2,649.7 L849.2,633 M841.2,967 L849.2,982.5"/><path d="M849.9,633 L849.9,708.3 M849.9,781.7 L849.9,982" stroke-width="1.6"/><path d="M841.2,708.3 L868,708.3 M841.2,781.7 L868,781.7"/><path d="M727.9,711.3 L866,711.3 Q871.5,711.3 872,706.5 M727.9,714.8 L866,714.8 Q871.5,714.8 872,710" /><clipPath id="hc2"><rect x="728" y="711.3" width="138" height="3.5"/></clipPath><path clip-path="url(#hc2)" d="M711.9,710.3 L706.4,715.8 M720.26,710.3 L714.76,715.8 M728.62,710.3 L723.12,715.8 M736.98,710.3 L731.48,715.8 M745.34,710.3 L739.84,715.8 M753.7,710.3 L748.2,715.8 M762.06,710.3 L756.56,715.8 M770.42,710.3 L764.92,715.8 M778.78,710.3 L773.28,715.8 M787.14,710.3 L781.64,715.8 M795.5,710.3 L790,715.8 M803.86,710.3 L798.36,715.8 M812.22,710.3 L806.72,715.8 M820.58,710.3 L815.08,715.8 M828.94,710.3 L823.44,715.8 M837.3,710.3 L831.8,715.8 M845.66,710.3 L840.16,715.8 M854.02,710.3 L848.52,715.8 M862.38,710.3 L856.88,715.8 M870.74,710.3 L865.24,715.8 M879.1,710.3 L873.6,715.8 M887.46,710.3 L881.96,715.8 " stroke-width="1.2" stroke-linecap="butt"/><path d="M727.9,776.4 L866,776.4 Q871.5,776.4 872,781 M727.9,780 L866,780 Q871.5,780 872,784.5" /><clipPath id="hc3"><rect x="728" y="776.4" width="138" height="3.6"/></clipPath><path clip-path="url(#hc3)" d="M713.68,775.4 L708.08,781 M722.04,775.4 L716.44,781 M730.4,775.4 L724.8,781 M738.76,775.4 L733.16,781 M747.12,775.4 L741.52,781 M755.48,775.4 L749.88,781 M763.84,775.4 L758.24,781 M772.2,775.4 L766.6,781 M780.56,775.4 L774.96,781 M788.92,775.4 L783.32,781 M797.28,775.4 L791.68,781 M805.64,775.4 L800.04,781 M814,775.4 L808.4,781 M822.36,775.4 L816.76,781 M830.72,775.4 L825.12,781 M839.08,775.4 L833.48,781 M847.44,775.4 L841.84,781 M855.8,775.4 L850.2,781 M864.16,775.4 L858.56,781 M872.52,775.4 L866.92,781 M880.88,775.4 L875.28,781 M889.24,775.4 L883.64,781 " stroke-width="1.2" stroke-linecap="butt"/><path d="M865.1,715.5 L865.1,775.5 M731.4,715 L731.4,776.4"/><path d="M724.4,706 L724.4,784.4" stroke-width="2.2"/><path d="M724.4,708 Q725,711.3 728.5,711.3 M724.4,782.5 Q725,780 728.5,780"/><path d="M718.2,649.7 L718.2,977.9 L732.8,977.9 L732.8,780 M732.8,649.7 L732.8,711.3" stroke-width="1.7"/><clipPath id="hc4"><rect x="718.2" y="914.5" width="14.6" height="63.4"/></clipPath><path clip-path="url(#hc4)" d="M700.98,913.5 L635.58,978.9 M709.34,913.5 L643.94,978.9 M717.7,913.5 L652.3,978.9 M726.06,913.5 L660.66,978.9 M734.42,913.5 L669.02,978.9 M742.78,913.5 L677.38,978.9 M751.14,913.5 L685.74,978.9 M759.5,913.5 L694.1,978.9 M767.86,913.5 L702.46,978.9 M776.22,913.5 L710.82,978.9 M784.58,913.5 L719.18,978.9 M792.94,913.5 L727.54,978.9 M801.3,913.5 L735.9,978.9 M809.66,913.5 L744.26,978.9 " stroke-width="1.45" stroke-linecap="butt"/><rect x="718.2" y="914.5" width="14.6" height="63.4" fill="none" stroke="#000" stroke-width="1.4"/><clipPath id="hc5"><rect x="720.5" y="647" width="10.5" height="4.5"/></clipPath><path clip-path="url(#hc5)" d="M709.32,646 L702.82,652.5 M717.68,646 L711.18,652.5 M726.04,646 L719.54,652.5 M734.4,646 L727.9,652.5 M742.76,646 L736.26,652.5 M751.12,646 L744.62,652.5 " stroke-width="1.2" stroke-linecap="butt"/><rect x="720.5" y="647" width="10.5" height="4.5" fill="none" stroke="#000" stroke-width="1"/><path d="M718.2,754.4 L724.4,754.4 M718.2,765.9 L724.4,765.9 M718.2,799.3 L732.8,799.3 M718.2,812.5 L732.8,812.5"/><rect x="872.5" y="836" width="4.2" height="16.5" fill="#fff" stroke-width="1.2"/><rect x="876.7" y="837.5" width="5.5" height="13.5" fill="#000" stroke="none"/><rect x="882.2" y="837.6" width="8.6" height="13.4" fill="#fff" stroke-width="1.4"/><rect x="890.8" y="836" width="5.5" height="16.5" fill="#000" stroke="none"/><rect x="836" y="836" width="5" height="15" fill="#000" stroke="none"/><rect x="830.5" y="839" width="5.5" height="11" fill="#fff" stroke-width="1.2"/><path d="M833.2,839.5 L833.2,849.5" stroke-width="1"/><path d="M839.7,852.5 L835,869.9" stroke-width="1.6"/><rect x="872.5" y="870.6" width="4.2" height="16.5" fill="#fff" stroke-width="1.2"/><rect x="876.7" y="872.1" width="5.5" height="13.5" fill="#000" stroke="none"/><rect x="882.2" y="872.2" width="8.6" height="13.4" fill="#fff" stroke-width="1.4"/><rect x="890.8" y="870.6" width="5.5" height="16.5" fill="#000" stroke="none"/><rect x="836" y="870.6" width="5" height="15" fill="#000" stroke="none"/><rect x="830.5" y="873.6" width="5.5" height="11" fill="#fff" stroke-width="1.2"/><path d="M833.2,874.1 L833.2,884.1" stroke-width="1"/><path d="M839.7,887.1 L835,904.5" stroke-width="1.6"/><path d="M877.8,852 L877.8,870.6" stroke-width="1.8"/><path d="M875,852 L875,870.6" stroke-width="1"/><clipPath id="hc6"><rect x="615" y="661.1" width="14.4" height="74.5"/></clipPath><path clip-path="url(#hc6)" d="M603.26,660.1 L526.76,736.6 M611.62,660.1 L535.12,736.6 M619.98,660.1 L543.48,736.6 M628.34,660.1 L551.84,736.6 M636.7,660.1 L560.2,736.6 M645.06,660.1 L568.56,736.6 M653.42,660.1 L576.92,736.6 M661.78,660.1 L585.28,736.6 M670.14,660.1 L593.64,736.6 M678.5,660.1 L602,736.6 M686.86,660.1 L610.36,736.6 M695.22,660.1 L618.72,736.6 M703.58,660.1 L627.08,736.6 M711.94,660.1 L635.44,736.6 M720.3,660.1 L643.8,736.6 " stroke-width="1.45" stroke-linecap="butt"/><rect x="615" y="661.1" width="14.4" height="74.5" fill="none" stroke-width="1.4"/><rect x="615.5" y="680.6" width="12.5" height="4.4" fill="#fff" stroke-width="1.1"/><rect x="615.5" y="711" width="12.5" height="5.5" fill="#fff" stroke-width="1.1"/><clipPath id="hc7"><rect x="629.4" y="663" width="3.9" height="71"/></clipPath><path clip-path="url(#hc7)" d="M618.08,662 L545.08,735 M626.44,662 L553.44,735 M634.8,662 L561.8,735 M643.16,662 L570.16,735 M651.52,662 L578.52,735 M659.88,662 L586.88,735 M668.24,662 L595.24,735 M676.6,662 L603.6,735 M684.96,662 L611.96,735 M693.32,662 L620.32,735 M701.68,662 L628.68,735 M710.04,662 L637.04,735 M718.4,662 L645.4,735 " stroke-width="1.2" stroke-linecap="butt"/><rect x="629.4" y="663" width="3.9" height="71" fill="none" stroke-width="1.2"/><clipPath id="hc8"><rect x="633.3" y="665.6" width="11.1" height="66.6"/></clipPath><path clip-path="url(#hc8)" d="M623.84,664.6 L555.24,733.2 M632.2,664.6 L563.6,733.2 M640.56,664.6 L571.96,733.2 M648.92,664.6 L580.32,733.2 M657.28,664.6 L588.68,733.2 M665.64,664.6 L597.04,733.2 M674,664.6 L605.4,733.2 M682.36,664.6 L613.76,733.2 M690.72,664.6 L622.12,733.2 M699.08,664.6 L630.48,733.2 M707.44,664.6 L638.84,733.2 M715.8,664.6 L647.2,733.2 M724.16,664.6 L655.56,733.2 " stroke-width="1.45" stroke-linecap="butt"/><rect x="633.3" y="665.6" width="11.1" height="66.6" fill="none" stroke-width="1.4"/><rect x="633.3" y="683.9" width="11.1" height="30" fill="#fff" stroke-width="1.2"/><rect x="605.6" y="663.3" width="5" height="70" fill="#fff" stroke-width="1.2"/><clipPath id="hc9"><rect x="610.6" y="661.1" width="4.4" height="74.5"/></clipPath><path clip-path="url(#hc9)" d="M594.9,660.1 L518.4,736.6 M603.26,660.1 L526.76,736.6 M611.62,660.1 L535.12,736.6 M619.98,660.1 L543.48,736.6 M628.34,660.1 L551.84,736.6 M636.7,660.1 L560.2,736.6 M645.06,660.1 L568.56,736.6 M653.42,660.1 L576.92,736.6 M661.78,660.1 L585.28,736.6 M670.14,660.1 L593.64,736.6 M678.5,660.1 L602,736.6 M686.86,660.1 L610.36,736.6 M695.22,660.1 L618.72,736.6 M703.58,660.1 L627.08,736.6 " stroke-width="1.2" stroke-linecap="butt"/><rect x="610.6" y="661.1" width="4.4" height="74.5" fill="none" stroke-width="1"/><path d="M611.5,681.8 Q598,684 599,698.5 Q598,713 611.5,716 L611.5,711.5 Q604.2,709.5 604.2,698.5 Q604.2,687.5 611.5,686 Z" fill="#000" stroke="none"/><path d="M611.5,688 Q606,692 606,698.5 Q606,705 611.5,709" stroke-width="0.9"/><path d="M606.9,649.7 L606.9,661 M623.3,649.7 L623.3,661 M606.9,736 L606.9,776 M623.3,736 L623.3,776"/><clipPath id="hc10"><rect x="606.9" y="736" width="16.4" height="40"/></clipPath><path clip-path="url(#hc10)" d="M595.24,735 L553.24,777 M603.6,735 L561.6,777 M611.96,735 L569.96,777 M620.32,735 L578.32,777 M628.68,735 L586.68,777 M637.04,735 L595.04,777 M645.4,735 L603.4,777 M653.76,735 L611.76,777 M662.12,735 L620.12,777 M670.48,735 L628.48,777 M678.84,735 L636.84,777 " stroke-width="1.45" stroke-linecap="butt"/><clipPath id="hc11"><rect x="606.9" y="649.7" width="16.4" height="11.3"/></clipPath><path clip-path="url(#hc11)" d="M589.58,648.7 L576.28,662 M597.94,648.7 L584.64,662 M606.3,648.7 L593,662 M614.66,648.7 L601.36,662 M623.02,648.7 L609.72,662 M631.38,648.7 L618.08,662 M639.74,648.7 L626.44,662 M648.1,648.7 L634.8,662 " stroke-width="1.45" stroke-linecap="butt"/><path d="M606.9,649.7 L606.9,661 M623.3,649.7 L623.3,661 M606.9,736 L606.9,776 M623.3,736 L623.3,776" stroke-width="1.4"/><clipPath id="hc12"><rect x="607.2" y="646.7" width="3.4" height="16.6"/></clipPath><path clip-path="url(#hc12)" d="M592.58,645.7 L573.98,664.3 M600.94,645.7 L582.34,664.3 M609.3,645.7 L590.7,664.3 M617.66,645.7 L599.06,664.3 M626.02,645.7 L607.42,664.3 M634.38,645.7 L615.78,664.3 M642.74,645.7 L624.14,664.3 " stroke-width="1.2" stroke-linecap="butt"/><rect x="607.2" y="646.7" width="3.4" height="16.6" fill="none" stroke-width="1.1"/><clipPath id="hc13"><rect x="607.2" y="733.3" width="3.4" height="17.7"/></clipPath><path clip-path="url(#hc13)" d="M589.58,732.3 L569.88,752 M597.94,732.3 L578.24,752 M606.3,732.3 L586.6,752 M614.66,732.3 L594.96,752 M623.02,732.3 L603.32,752 M631.38,732.3 L611.68,752 M639.74,732.3 L620.04,752 " stroke-width="1.2" stroke-linecap="butt"/><rect x="607.2" y="733.3" width="3.4" height="17.7" fill="none" stroke-width="1.1"/><rect x="599" y="771" width="24.3" height="144.6" fill="#fff" stroke="none"/><path d="M606.9,760 L606.9,771 M623.3,760 L623.3,807 M623.3,879.6 L623.3,925 M614.8,771 L614.8,807 M614.8,879.6 L614.8,915.6 M612.9,771 L623.3,771 M612.9,915.6 L623.3,915.6" stroke-width="1.4"/><path d="M607.9,771 L607.9,915.6" stroke-width="2.6"/><path d="M600.3,785 L600.3,901.6 M610.3,790 L610.3,896.6" stroke-width="1.4"/><path d="M606.3,777.8 Q600.3,778.5 600.3,783.7 Q600.3,789 606.3,789.6" stroke-width="1.5"/><path d="M611.1,795.6 L628.9,819.3" stroke-width="2.3"/><path d="M614,787.5 L638.5,793 L638.5,799 L614,792.5 Z" fill="#333" stroke-width="1.2"/><path d="M623.7,772.6 L628.9,774.8 L623.7,777 Z" fill="#000" stroke="none"/><path d="M639.2,786.7 Q645.9,787 645.9,793.3 L645.9,805" stroke-width="1.3"/><rect x="630.3" y="810.4" width="6" height="8.1" fill="#fff" stroke-width="1.2"/><path d="M606.3,908.8 Q600.3,908.1 600.3,902.9 Q600.3,897.6 606.3,897" stroke-width="1.5"/><path d="M611.1,891 L628.9,867.3" stroke-width="2.3"/><path d="M614,899.1 L638.5,893.6 L638.5,887.6 L614,894.1 Z" fill="#333" stroke-width="1.2"/><path d="M623.7,914 L628.9,911.8 L623.7,909.6 Z" fill="#000" stroke="none"/><path d="M639.2,899.9 Q645.9,899.6 645.9,893.3 L645.9,881.6" stroke-width="1.3"/><rect x="630.3" y="868.1" width="6" height="8.1" fill="#fff" stroke-width="1.2"/><path d="M639.2,787.4 L639.2,899.2" stroke-width="3.4"/><path d="M628.9,823 Q615.5,828 615.5,843.3 Q615.5,858.6 628.9,863.6" stroke-width="1.8"/><path d="M610.7,906.3 Q624,902 634.4,898.5 Q642,896 646.9,893.8 Q652,890 654.8,885.9" stroke-width="2.2"/><path d="M610.7,780.3 Q624,784.6 634.4,788.1 Q642,790.6 646.9,792.8" stroke-width="1.6"/><path d="M627,869 L636.5,859.5 L636.5,879 Z" fill="#000" stroke="none"/><rect x="632.7" y="827" width="23.1" height="32.6" fill="#fff" stroke-width="1.4"/><circle cx="649" cy="839.1" r="1.9" stroke-width="1.2"/><clipPath id="hc14"><rect x="656.8" y="790" width="5.2" height="34.4"/></clipPath><path clip-path="url(#hc14)" d="M641.56,789 L605.16,825.4 M649.92,789 L613.52,825.4 M658.28,789 L621.88,825.4 M666.64,789 L630.24,825.4 M675,789 L638.6,825.4 M683.36,789 L646.96,825.4 M691.72,789 L655.32,825.4 M700.08,789 L663.68,825.4 M708.44,789 L672.04,825.4 " stroke-width="1.2" stroke-linecap="butt"/><rect x="656.8" y="790" width="5.2" height="34.4" fill="none" stroke-width="1.3"/><clipPath id="hc15"><rect x="662" y="786.8" width="19.4" height="35"/></clipPath><path clip-path="url(#hc15)" d="M644.76,785.8 L607.76,822.8 M653.12,785.8 L616.12,822.8 M661.48,785.8 L624.48,822.8 M669.84,785.8 L632.84,822.8 M678.2,785.8 L641.2,822.8 M686.56,785.8 L649.56,822.8 M694.92,785.8 L657.92,822.8 M703.28,785.8 L666.28,822.8 M711.64,785.8 L674.64,822.8 M720,785.8 L683,822.8 M728.36,785.8 L691.36,822.8 " stroke-width="1.45" stroke-linecap="butt"/><rect x="662" y="786.8" width="19.4" height="35" fill="none" stroke-width="1.5"/><clipPath id="hc16"><rect x="681.4" y="790" width="7.2" height="31.8"/></clipPath><path clip-path="url(#hc16)" d="M666.64,789 L632.84,822.8 M675,789 L641.2,822.8 M683.36,789 L649.56,822.8 M691.72,789 L657.92,822.8 M700.08,789 L666.28,822.8 M708.44,789 L674.64,822.8 M716.8,789 L683,822.8 M725.16,789 L691.36,822.8 M733.52,789 L699.72,822.8 " stroke-width="1.2" stroke-linecap="butt"/><rect x="681.4" y="790" width="7.2" height="31.8" fill="none" stroke-width="1.3"/><rect x="662" y="821.8" width="24" height="5.2" fill="#fff" stroke-width="1.1"/><clipPath id="hc17"><path d="M656.8,827 L688.6,827 L688.6,818 L691.8,818 L691.8,868.4 L688.6,868.4 L688.6,859.4 L656.8,859.4 Z"/></clipPath><path clip-path="url(#hc17)" d="M647,817 L594.6,869.4 M655.36,817 L602.96,869.4 M663.72,817 L611.32,869.4 M672.08,817 L619.68,869.4 M680.44,817 L628.04,869.4 M688.8,817 L636.4,869.4 M697.16,817 L644.76,869.4 M705.52,817 L653.12,869.4 M713.88,817 L661.48,869.4 M722.24,817 L669.84,869.4 M730.6,817 L678.2,869.4 M738.96,817 L686.56,869.4 M747.32,817 L694.92,869.4 M755.68,817 L703.28,869.4 " stroke-width="1.45" stroke-linecap="butt"/><path d="M656.8,827 L688.6,827 L688.6,818 L691.8,818 L691.8,868.4 L688.6,868.4 L688.6,859.4 L656.8,859.4 Z" fill="none" stroke-width="1.5"/><path d="M656.8,829.5 Q662,833.5 666,836 L691.8,836 L691.8,849.7 L666,849.7 Q662,852.5 656.8,856.5 Z" fill="#fff" stroke-width="1.3"/><rect x="662" y="859.4" width="24" height="4" fill="#fff" stroke-width="1.1"/><clipPath id="hc18"><rect x="656.8" y="863.4" width="5.2" height="34"/></clipPath><path clip-path="url(#hc18)" d="M643.4,862.4 L607.4,898.4 M651.76,862.4 L615.76,898.4 M660.12,862.4 L624.12,898.4 M668.48,862.4 L632.48,898.4 M676.84,862.4 L640.84,898.4 M685.2,862.4 L649.2,898.4 M693.56,862.4 L657.56,898.4 M701.92,862.4 L665.92,898.4 M710.28,862.4 L674.28,898.4 " stroke-width="1.2" stroke-linecap="butt"/><rect x="656.8" y="863.4" width="5.2" height="34" fill="none" stroke-width="1.3"/><clipPath id="hc19"><rect x="662" y="863.4" width="19.4" height="36.1"/></clipPath><path clip-path="url(#hc19)" d="M651.76,862.4 L613.66,900.5 M660.12,862.4 L622.02,900.5 M668.48,862.4 L630.38,900.5 M676.84,862.4 L638.74,900.5 M685.2,862.4 L647.1,900.5 M693.56,862.4 L655.46,900.5 M701.92,862.4 L663.82,900.5 M710.28,862.4 L672.18,900.5 M718.64,862.4 L680.54,900.5 M727,862.4 L688.9,900.5 M735.36,862.4 L697.26,900.5 " stroke-width="1.45" stroke-linecap="butt"/><rect x="662" y="863.4" width="19.4" height="36.1" fill="none" stroke-width="1.5"/><clipPath id="hc20"><rect x="681.4" y="863.4" width="7.2" height="33"/></clipPath><path clip-path="url(#hc20)" d="M668.48,862.4 L633.48,897.4 M676.84,862.4 L641.84,897.4 M685.2,862.4 L650.2,897.4 M693.56,862.4 L658.56,897.4 M701.92,862.4 L666.92,897.4 M710.28,862.4 L675.28,897.4 M718.64,862.4 L683.64,897.4 M727,862.4 L692,897.4 M735.36,862.4 L700.36,897.4 " stroke-width="1.2" stroke-linecap="butt"/><rect x="681.4" y="863.4" width="7.2" height="33" fill="none" stroke-width="1.3"/><path d="M643.2,790 L643.2,826 M646,795 L656.8,801 M646,808 L656.8,808 M646,805 L646,812" stroke-width="1.2"/><path d="M643.2,896.6 L643.2,860.6 M646,891.6 L656.8,885.6 M646,878.6 L656.8,878.6 M646,881.6 L646,874.6" stroke-width="1.2"/></g>
<g stroke="#b5885a" stroke-width="1.3"><path d="M185.4,614.4 L327.8,614.4 M185.4,997.5 L225.5,997.5 M204.7,614.4 L204.7,772.4 M204.7,839.3 L204.7,997.5"/><path d="M204.7,614.6 L206.7,619.6 L202.7,619.6 Z" fill="#b5885a" stroke="none"/><path d="M204.7,997.3 L202.7,992.3 L206.7,992.3 Z" fill="#b5885a" stroke="none"/><path d="M225.7,999.5 L225.7,1033.6 M441,999.5 L441,1033.6 M225.7,1014.8 L296,1014.8 M370.5,1014.8 L441,1014.8"/><path d="M225.9,1014.8 L230.9,1012.8 L230.9,1016.8 Z" fill="#b5885a" stroke="none"/><path d="M440.8,1014.8 L435.8,1016.8 L435.8,1012.8 Z" fill="#b5885a" stroke="none"/><path d="M606.8,575.5 L606.8,608.8 M919.8,575.5 L919.8,608.8 M606.8,594.8 L724.5,594.8 M802,594.8 L919.8,594.8"/><path d="M607,594.8 L612,592.8 L612,596.8 Z" fill="#b5885a" stroke="none"/><path d="M919.6,594.8 L914.6,596.8 L914.6,592.8 Z" fill="#b5885a" stroke="none"/></g>
<path d="M297.6,1007.83 L300.46,1004.7 L306.64,1004.7 L309.5,1007.83 L309.5,1010.27 L306.64,1013.57 L300.46,1013.57 L297.6,1016.53 L297.6,1022.1 L309.5,1022.1 M316.5,1008.18 L319.43,1004.7 L325.77,1004.7 L328.7,1007.83 L328.7,1010.96 L326.02,1013.57 L321.99,1013.57 M326.02,1013.57 L328.7,1016.18 L328.7,1019.32 L325.77,1022.1 L319.43,1022.1 L316.5,1018.97 M337.9,1004.7 L341.5,1004.7 L344.2,1008.18 L344.2,1018.62 L341.5,1022.1 L337.9,1022.1 L335.2,1018.62 L335.2,1008.18 L337.9,1004.7 M353.9,1018.62 L353.9,1021.75 L350.2,1025.23 M362.72,1004.7 L366.08,1004.7 L368.6,1008.18 L368.6,1018.62 L366.08,1022.1 L362.72,1022.1 L360.2,1018.62 L360.2,1008.18 L362.72,1004.7 M726,587.72 L728.76,584.1 L734.74,584.1 L737.5,587.36 L737.5,590.62 L734.97,593.33 L731.17,593.33 M734.97,593.33 L737.5,596.05 L737.5,599.3 L734.74,602.2 L728.76,602.2 L726,598.94 M744.5,587.72 L747.36,584.1 L753.54,584.1 L756.4,587.36 L756.4,590.62 L753.78,593.33 L749.86,593.33 M753.78,593.33 L756.4,596.05 L756.4,599.3 L753.54,602.2 L747.36,602.2 L744.5,598.94 M775.6,584.1 L763.8,584.1 L763.8,589.89 L772.06,589.89 L775.6,593.15 L775.6,599.3 L772.53,602.2 L766.87,602.2 L763.8,599.3 M785.1,598.58 L785.1,601.84 L781.3,605.46 M794.19,584.1 L797.91,584.1 L800.7,587.72 L800.7,598.58 L797.91,602.2 L794.19,602.2 L791.4,598.58 L791.4,587.72 L794.19,584.1 " stroke="#0000ff" stroke-width="1.8" stroke-linejoin="miter" stroke-linecap="square"/>
<path transform="translate(193.2,839.1) rotate(-90)" d="M9.22,18.7 L9.22,0.9 L0.9,12.83 L12,12.83 M22,0.9 L22,18.7 M22,0.9 L20.02,5.35 M19.4,18.7 L24.6,18.7 M34.21,0.9 L38.09,0.9 L41,4.46 L41,15.14 L38.09,18.7 L34.21,18.7 L31.3,15.14 L31.3,4.46 L34.21,0.9 M50,15.14 L50,18.34 L47,21.9 M59.17,0.9 L62.73,0.9 L65.4,4.46 L65.4,15.14 L62.73,18.7 L59.17,18.7 L56.5,15.14 L56.5,4.46 L59.17,0.9 " stroke="#0000ff" stroke-width="1.8" stroke-linejoin="miter" stroke-linecap="square"/>
</svg>
</body></html>
